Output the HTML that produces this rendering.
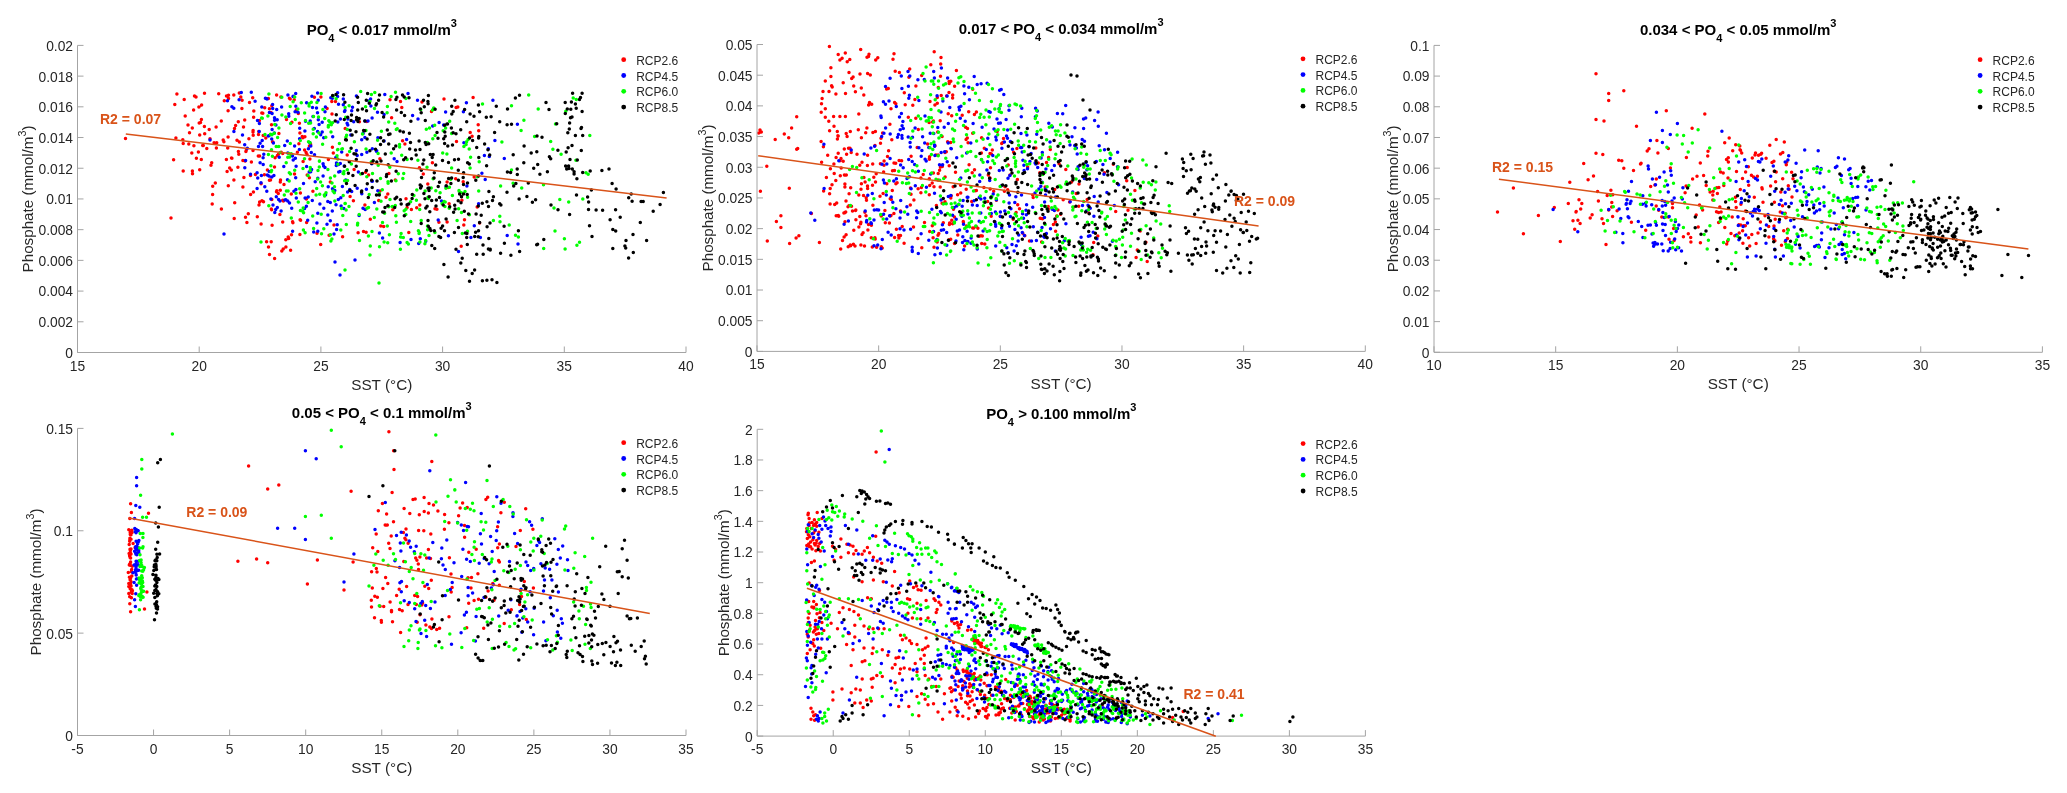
<!DOCTYPE html><html><head><meta charset="utf-8"><style>html,body{margin:0;padding:0;background:#fff;width:2067px;height:793px;overflow:hidden}svg{display:block;will-change:transform}text{font-family:"Liberation Sans",sans-serif}</style></head><body>
<svg width="2067" height="793" viewBox="0 0 2067 793">
<rect width="2067" height="793" fill="#fff"/>
<path d="M192.4 170.9h0M279.9 214.6h0M274.5 167.1h0M284.0 184.5h0M183.2 171.1h0M304.6 150.0h0M200.5 122.6h0M198.4 152.1h0M286.5 119.5h0M262.8 113.2h0M280.3 190.3h0M299.9 132.9h0M234.7 202.8h0M298.3 113.6h0M257.3 216.7h0M280.5 180.0h0M212.6 194.5h0M245.9 151.4h0M291.6 154.8h0M285.9 246.9h0M263.2 135.6h0M290.6 250.2h0M272.1 225.3h0M243.9 177.6h0M253.6 117.2h0M266.6 241.8h0M270.9 112.6h0M202.7 145.6h0M259.0 205.1h0M276.8 190.7h0M218.7 93.7h0M188.0 125.1h0M245.5 217.2h0M201.3 159.5h0M303.1 161.4h0M271.8 199.4h0M264.4 174.7h0M248.3 213.8h0M294.2 99.7h0M199.7 134.9h0M185.2 115.9h0M261.8 113.0h0M228.3 185.8h0M238.4 151.5h0M235.6 125.4h0M253.2 135.3h0M192.3 127.9h0M228.1 137.0h0M271.5 124.7h0M210.0 138.8h0M204.5 93.2h0M183.2 143.5h0M262.0 200.8h0M291.5 234.8h0M221.4 209.1h0M234.2 218.6h0M270.5 180.0h0M196.4 158.2h0M234.5 128.6h0M248.9 138.8h0M259.6 202.0h0M253.8 110.9h0M253.1 130.4h0M227.1 171.5h0M271.2 241.7h0M184.2 99.6h0M233.8 95.0h0M193.6 110.0h0M278.3 193.4h0M275.1 157.7h0M296.4 109.7h0M288.7 238.5h0M281.8 251.1h0M281.2 152.3h0M176.9 94.0h0M242.9 187.1h0M243.5 127.0h0M291.3 194.1h0M268.4 98.4h0M253.0 132.1h0M188.8 143.9h0M269.5 254.5h0M198.9 106.9h0M271.8 105.8h0M216.1 127.0h0M290.2 98.9h0M231.5 158.1h0M199.2 123.0h0M209.2 129.5h0M304.9 136.8h0M175.9 137.9h0M291.9 122.2h0M264.7 107.7h0M221.3 121.1h0M258.3 156.1h0M280.3 181.9h0M228.5 95.3h0M289.4 98.3h0M282.7 153.5h0M302.2 136.6h0M253.4 191.9h0M272.9 141.9h0M227.7 148.1h0M300.6 220.3h0M258.5 134.6h0M241.9 108.5h0M201.6 104.9h0M288.2 237.1h0M255.4 174.6h0M268.5 247.0h0M269.4 180.3h0M292.6 221.7h0M228.5 98.4h0M246.9 222.4h0M269.4 108.7h0M283.4 201.1h0M307.2 175.1h0M299.4 123.3h0M263.5 201.7h0M246.2 150.6h0M242.9 160.5h0M282.7 222.0h0M267.4 170.0h0M231.3 170.1h0M272.5 141.7h0M199.7 169.7h0M261.1 183.8h0M294.5 174.0h0M226.5 95.9h0M228.1 110.8h0M274.6 258.6h0M278.9 133.4h0M238.3 121.7h0M215.3 183.0h0M226.4 159.4h0M271.6 209.7h0M280.9 97.1h0M276.6 95.1h0M231.9 158.2h0M174.8 104.5h0M265.8 138.1h0M244.7 119.9h0M277.4 155.5h0M306.1 152.6h0M211.0 165.2h0M309.9 159.0h0M212.7 186.2h0M261.1 223.9h0M271.3 208.9h0M229.7 168.0h0M309.4 177.8h0M278.5 154.2h0M173.6 159.8h0M245.1 161.1h0M201.4 119.6h0M292.9 222.8h0M283.2 249.1h0M299.9 234.6h0M297.4 152.3h0M285.8 239.7h0M276.5 191.7h0M212.2 204.0h0M302.8 137.8h0M193.9 145.7h0M233.9 180.1h0M204.7 133.7h0M192.5 173.7h0M191.8 153.0h0M258.8 131.6h0M298.9 143.8h0M250.6 194.5h0M253.0 150.6h0M282.7 200.2h0M250.5 175.6h0M211.7 162.7h0M238.8 154.3h0M259.6 155.9h0M259.4 120.5h0M214.1 142.8h0M249.5 102.6h0M189.5 132.8h0M196.0 97.0h0M237.0 140.2h0M216.4 148.0h0M204.4 126.5h0M206.8 148.5h0M216.7 142.7h0M223.9 141.8h0M252.7 97.7h0M239.4 142.0h0M239.3 92.9h0M182.8 139.7h0M224.3 100.8h0M242.1 100.2h0M251.4 162.0h0M237.9 167.3h0M203.3 145.6h0M194.5 95.9h0M240.8 96.9h0M223.2 140.0h0M171.0 218.0h0M125.5 138.5h0M436.9 209.3h0M390.0 99.7h0M477.2 206.9h0M386.0 197.3h0M345.2 128.4h0M307.0 154.4h0M401.8 107.6h0M333.3 153.1h0M300.1 219.8h0M329.1 235.2h0M402.6 140.8h0M312.9 191.3h0M310.6 144.3h0M479.6 222.9h0M427.8 184.1h0M411.4 209.5h0M457.8 107.1h0M461.2 246.2h0M404.9 144.0h0M309.4 146.0h0M306.4 198.9h0M407.1 207.4h0M456.5 141.5h0M435.0 208.7h0M400.5 101.4h0M455.7 178.7h0M383.7 226.6h0M320.9 96.9h0M419.8 205.0h0M395.3 180.0h0M438.9 222.3h0M416.7 207.7h0M391.6 117.7h0M444.0 99.0h0M330.3 182.0h0M366.1 232.3h0M354.1 169.4h0M334.0 225.1h0M364.9 205.1h0M432.4 162.8h0M320.7 244.4h0M306.6 222.4h0M328.4 159.6h0M379.9 158.8h0M406.0 198.7h0M422.0 102.0h0M366.8 121.5h0M474.2 177.1h0M478.2 124.8h0M423.3 174.0h0M359.4 121.7h0M408.8 232.5h0M388.9 173.5h0M470.2 132.6h0M363.5 231.4h0M314.4 97.3h0M419.4 167.8h0M463.2 181.8h0M350.1 196.5h0M380.0 191.0h0M335.5 101.6h0M463.8 225.1h0M327.1 108.4h0M449.1 203.8h0M380.8 226.0h0M447.1 222.0h0M464.5 219.8h0M300.4 192.9h0M317.0 233.3h0M448.2 187.6h0M378.7 200.4h0M353.4 200.7h0M473.1 97.5h0M370.3 219.3h0M332.4 147.2h0M447.1 182.1h0M347.2 155.0h0M365.6 172.2h0M478.7 130.8h0M358.1 232.7h0M387.8 193.9h0M456.1 107.5h0M332.0 114.0h0M331.8 101.4h0M342.6 236.7h0M461.9 200.3h0M392.8 209.8h0M472.1 136.3h0M431.5 111.6h0M368.6 174.9h0" stroke="#ff0000" stroke-width="3.5" stroke-linecap="round" fill="none"/>
<path d="M322.2 122.3h0M288.8 116.3h0M281.1 210.9h0M262.2 140.4h0M318.3 119.7h0M361.7 139.7h0M271.7 138.9h0M295.4 158.2h0M287.8 153.1h0M255.1 101.2h0M359.1 215.5h0M340.3 163.6h0M309.2 171.9h0M305.1 198.0h0M327.8 201.6h0M304.6 208.5h0M327.8 215.0h0M345.0 110.5h0M293.9 191.2h0M335.8 157.4h0M316.9 222.9h0M259.2 131.4h0M272.1 113.4h0M317.8 178.3h0M261.8 107.0h0M317.5 112.7h0M245.6 160.5h0M350.8 134.9h0M267.0 99.1h0M306.6 102.7h0M371.9 181.3h0M334.8 190.5h0M311.3 152.5h0M343.3 104.8h0M267.3 175.0h0M296.1 166.2h0M312.5 107.6h0M251.3 92.2h0M328.2 186.8h0M275.7 209.4h0M340.4 118.9h0M295.7 177.8h0M347.9 119.0h0M332.7 136.7h0M263.1 157.8h0M347.1 123.2h0M345.7 179.9h0M260.1 162.8h0M372.4 181.2h0M317.8 213.3h0M298.0 112.2h0M310.2 121.1h0M272.6 104.4h0M306.4 206.3h0M336.0 204.7h0M261.0 182.7h0M366.4 189.3h0M284.9 199.9h0M361.7 154.4h0M260.1 143.2h0M337.8 121.9h0M231.9 106.7h0M349.7 189.6h0M266.8 191.3h0M257.1 188.4h0M295.9 189.5h0M287.9 95.0h0M272.1 129.4h0M344.5 111.4h0M276.3 196.8h0M311.9 96.3h0M269.0 135.7h0M325.0 167.6h0M295.7 93.5h0M293.2 160.0h0M247.3 148.3h0M244.7 144.7h0M317.8 231.3h0M272.7 108.6h0M287.7 200.9h0M264.8 186.7h0M344.2 166.0h0M268.9 175.9h0M340.0 171.6h0M356.4 96.0h0M370.6 98.9h0M275.9 125.1h0M257.7 177.9h0M318.2 100.2h0M305.5 121.2h0M271.8 177.0h0M374.4 202.6h0M269.4 112.4h0M338.5 164.5h0M274.8 212.5h0M273.0 204.9h0M343.8 208.6h0M263.2 164.4h0M363.1 133.6h0M239.1 99.7h0M323.1 163.7h0M336.6 229.6h0M314.5 154.8h0M361.8 193.7h0M233.9 131.5h0M319.1 124.4h0M284.7 145.5h0M314.3 128.4h0M304.9 131.1h0M315.2 181.8h0M338.3 199.5h0M338.5 104.3h0M299.4 149.5h0M347.8 124.9h0M274.3 133.1h0M279.2 157.3h0M294.6 145.9h0M330.3 202.5h0M332.3 211.0h0M313.7 232.0h0M299.6 138.8h0M332.3 98.2h0M365.2 209.5h0M278.6 199.4h0M341.7 152.1h0M283.8 166.5h0M303.5 183.6h0M313.0 116.5h0M334.0 233.9h0M347.6 192.1h0M330.3 220.8h0M273.4 143.0h0M277.2 119.8h0M317.6 92.9h0M320.7 134.7h0M288.7 113.7h0M353.7 121.8h0M308.2 197.0h0M311.6 169.6h0M343.3 99.0h0M274.5 117.8h0M257.1 172.8h0M338.7 171.9h0M341.1 205.9h0M233.8 108.3h0M259.4 123.4h0M242.5 134.9h0M292.5 156.1h0M250.5 174.2h0M322.2 132.1h0M377.8 190.7h0M371.8 163.8h0M342.4 186.5h0M364.9 137.6h0M263.8 154.2h0M265.4 98.3h0M310.7 171.7h0M336.3 165.5h0M364.9 121.1h0M323.7 137.8h0M368.8 100.9h0M317.6 131.5h0M372.1 118.0h0M337.6 92.7h0M262.6 146.4h0M323.8 208.3h0M295.1 111.7h0M276.7 109.6h0M357.2 155.4h0M296.3 198.1h0M323.6 165.9h0M287.5 179.7h0M268.2 136.1h0M293.0 96.6h0M351.7 110.7h0M312.3 200.5h0M333.8 191.2h0M325.0 111.7h0M306.6 166.5h0M292.6 231.3h0M307.7 220.3h0M363.0 208.3h0M280.0 200.9h0M241.3 92.5h0M332.5 188.7h0M325.4 107.0h0M327.0 224.2h0M358.4 172.0h0M295.8 106.3h0M289.5 203.1h0M258.5 146.6h0M277.3 207.5h0M273.9 175.6h0M285.8 199.7h0M370.9 106.1h0M257.5 120.4h0M269.2 171.5h0M244.8 167.7h0M270.9 199.0h0M281.6 106.9h0M299.7 128.2h0M319.9 204.1h0M337.6 96.5h0M287.3 140.9h0M357.2 188.2h0M261.4 175.6h0M351.7 191.6h0M323.1 175.9h0M356.4 150.4h0M293.2 96.2h0M352.5 107.3h0M368.0 121.1h0M309.6 142.5h0M336.5 163.0h0M325.6 194.8h0M227.5 100.8h0M316.5 108.0h0M291.7 208.2h0M310.8 146.1h0M337.2 224.7h0M366.9 152.3h0M340.8 197.8h0M274.5 120.3h0M330.8 97.7h0M308.4 148.8h0M443.6 125.0h0M394.2 158.8h0M480.4 237.5h0M376.4 151.2h0M485.2 179.5h0M504.3 158.6h0M470.9 237.5h0M445.6 112.0h0M377.5 112.2h0M458.5 251.5h0M397.0 161.6h0M377.9 137.8h0M408.0 93.5h0M474.3 225.8h0M418.7 243.5h0M507.2 235.4h0M463.9 142.8h0M488.3 148.8h0M518.0 244.0h0M411.0 239.4h0M384.1 141.0h0M425.7 241.2h0M478.6 203.7h0M481.9 173.3h0M412.6 115.6h0M484.4 155.5h0M432.7 126.1h0M517.4 124.2h0M372.3 148.7h0M406.6 139.6h0M379.4 233.1h0M438.2 220.0h0M466.4 102.8h0M494.9 140.6h0M489.3 156.4h0M417.5 100.2h0M384.1 114.4h0M448.4 235.7h0M382.6 237.9h0M420.3 238.7h0M418.0 118.9h0M400.1 242.5h0M492.9 100.3h0M441.5 201.1h0M446.1 186.8h0M463.4 111.7h0M384.8 94.6h0M376.7 150.8h0M439.1 122.4h0M466.9 185.9h0M224.0 234.0h0M335.0 262.0h0M340.0 275.0h0M355.0 260.0h0M210.0 140.0h0" stroke="#0000ff" stroke-width="3.5" stroke-linecap="round" fill="none"/>
<path d="M376.8 209.1h0M468.1 139.4h0M401.7 155.2h0M294.7 97.0h0M378.1 153.4h0M416.4 200.3h0M442.1 203.5h0M405.9 98.4h0M368.5 207.5h0M404.2 210.8h0M387.7 242.8h0M407.1 242.4h0M401.1 233.5h0M319.7 194.3h0M382.5 222.4h0M434.7 125.2h0M291.3 218.0h0M433.7 108.1h0M360.7 174.0h0M332.0 183.0h0M301.3 102.8h0M302.7 211.2h0M451.6 133.4h0M271.5 149.8h0M400.4 249.2h0M337.9 164.2h0M432.5 110.1h0M446.9 154.1h0M428.0 197.3h0M432.8 138.8h0M449.2 208.3h0M359.2 214.6h0M340.8 230.0h0M440.1 192.7h0M389.8 167.3h0M403.7 173.5h0M347.3 129.5h0M380.5 178.4h0M360.7 91.6h0M466.6 141.8h0M445.2 202.1h0M289.6 157.1h0M276.2 146.4h0M392.2 206.6h0M449.4 187.2h0M470.6 157.2h0M387.3 226.1h0M284.3 194.9h0M374.3 217.5h0M354.4 141.7h0M371.4 94.5h0M457.1 220.5h0M427.0 167.3h0M399.6 147.1h0M459.1 191.3h0M467.6 197.3h0M313.2 133.8h0M332.5 122.8h0M349.1 105.8h0M396.4 222.3h0M328.4 125.5h0M351.4 163.9h0M395.8 215.7h0M323.8 228.7h0M405.9 209.2h0M369.2 194.6h0M366.0 149.1h0M318.5 117.0h0M270.5 134.3h0M445.9 188.2h0M337.9 149.5h0M391.2 153.0h0M478.7 190.9h0M267.9 116.0h0M287.8 157.2h0M463.9 146.4h0M342.8 215.4h0M405.8 214.6h0M331.3 124.7h0M443.2 130.8h0M421.2 220.4h0M330.4 178.0h0M316.7 188.5h0M278.8 146.4h0M390.0 199.4h0M388.1 183.2h0M391.1 96.5h0M419.1 233.6h0M321.5 233.7h0M319.4 161.2h0M337.7 159.1h0M444.1 201.4h0M419.3 232.5h0M387.4 106.5h0M381.0 201.2h0M265.0 134.4h0M450.7 179.3h0M308.5 141.8h0M372.0 231.6h0M271.6 170.5h0M304.6 113.1h0M346.3 224.6h0M281.9 114.9h0M310.3 167.6h0M347.6 180.5h0M427.5 225.9h0M395.3 205.5h0M435.8 190.8h0M465.0 191.4h0M470.1 168.1h0M313.6 228.6h0M349.6 151.4h0M379.3 193.2h0M367.0 208.3h0M357.7 223.2h0M308.7 123.3h0M466.1 144.6h0M319.4 161.0h0M261.6 117.9h0M372.5 173.5h0M270.9 165.8h0M388.0 181.8h0M410.7 221.4h0M312.7 215.9h0M285.8 117.0h0M374.8 92.6h0M429.5 128.0h0M413.9 195.6h0M477.5 176.7h0M389.4 234.7h0M388.7 206.8h0M368.4 235.9h0M433.1 178.8h0M396.3 129.6h0M328.3 127.1h0M322.6 144.2h0M431.2 188.1h0M403.3 237.6h0M382.3 189.8h0M371.3 162.0h0M451.6 167.9h0M425.6 240.6h0M416.8 190.0h0M387.1 112.8h0M330.9 240.9h0M452.4 195.5h0M334.8 200.9h0M286.4 190.9h0M445.6 127.9h0M365.9 130.5h0M461.5 212.6h0M357.5 225.0h0M381.4 131.3h0M281.8 97.3h0M262.3 118.2h0M334.5 186.7h0M268.9 93.9h0M428.3 198.6h0M343.8 173.7h0M449.7 121.2h0M429.0 235.4h0M271.9 134.7h0M331.9 239.0h0M374.5 108.6h0M435.1 135.4h0M359.5 240.5h0M467.5 231.3h0M268.4 154.5h0M461.3 192.8h0M366.8 176.7h0M379.5 246.8h0M384.1 242.0h0M424.9 243.7h0M378.2 165.3h0M388.7 121.9h0M365.6 106.8h0M442.7 153.1h0M362.5 133.9h0M434.9 232.6h0M469.4 214.8h0M303.4 230.0h0M322.9 109.5h0M309.1 103.8h0M324.7 118.5h0M319.3 166.9h0M309.1 105.9h0M425.1 190.9h0M305.1 232.8h0M459.0 190.6h0M395.5 92.3h0M313.5 116.5h0M417.9 160.3h0M400.6 237.0h0M349.0 206.6h0M458.6 208.8h0M426.3 129.2h0M310.2 170.6h0M427.4 142.5h0M427.6 229.8h0M462.3 233.4h0M384.6 213.2h0M394.8 123.3h0M469.2 148.9h0M419.7 209.4h0M310.6 123.1h0M343.1 173.4h0M407.1 159.6h0M408.4 243.9h0M402.8 178.6h0M330.4 234.7h0M420.8 109.6h0M444.9 206.5h0M418.4 230.7h0M377.6 140.3h0M305.5 120.5h0M326.0 192.8h0M342.4 148.7h0M399.5 144.6h0M337.0 155.7h0M343.9 171.6h0M479.2 161.8h0M396.0 180.8h0M369.9 101.5h0M397.2 128.7h0M328.8 120.8h0M398.3 173.7h0M419.9 242.0h0M410.6 201.7h0M370.3 246.1h0M339.4 143.4h0M576.9 245.3h0M518.4 237.1h0M552.9 149.3h0M543.7 248.5h0M511.5 170.0h0M555.0 231.1h0M521.7 187.9h0M568.7 202.0h0M575.9 160.3h0M501.9 141.9h0M500.6 186.0h0M482.5 103.9h0M509.2 225.0h0M561.1 154.2h0M588.2 174.3h0M534.6 136.4h0M521.1 130.6h0M565.8 111.3h0M550.7 141.4h0M528.7 95.1h0M576.3 99.4h0M538.2 109.1h0M582.8 199.0h0M523.9 120.2h0M543.5 184.7h0M586.0 172.7h0M554.0 208.0h0M499.8 216.3h0M559.8 199.5h0M515.5 235.2h0M493.4 220.5h0M589.8 135.4h0M573.2 97.9h0M579.5 242.2h0M511.5 105.8h0M564.4 238.8h0M555.5 124.1h0M565.1 249.1h0M500.0 221.7h0M513.1 183.2h0M379.0 283.0h0M345.0 270.0h0M370.0 255.0h0M261.0 242.0h0M290.3 143.5h0M298.3 202.1h0M318.0 170.5h0M288.8 153.5h0M299.7 188.7h0M325.8 137.3h0M272.4 156.2h0M336.1 98.8h0M310.1 142.7h0M317.5 179.0h0M289.3 172.7h0M290.5 173.9h0M345.9 137.3h0M274.3 133.3h0M329.8 121.9h0M300.4 210.6h0M331.0 132.0h0M316.1 195.0h0M337.5 149.8h0M341.8 149.0h0M343.2 195.6h0M344.6 180.7h0M313.2 129.2h0M274.8 124.6h0M327.9 169.6h0M277.6 137.6h0M341.6 208.5h0M303.0 168.6h0M333.1 96.2h0M311.3 102.2h0M320.6 182.0h0M308.1 175.5h0M268.8 205.7h0M294.7 170.3h0M297.9 109.0h0M346.1 209.9h0M318.9 133.0h0M286.2 162.7h0M308.1 202.5h0M345.0 203.5h0M334.7 175.9h0M333.0 191.1h0M316.9 102.6h0M288.1 191.1h0M346.6 135.2h0M316.4 137.1h0M291.2 153.8h0M321.1 93.4h0M324.3 194.9h0M290.2 106.4h0M322.4 185.7h0M271.1 171.8h0M280.1 152.4h0M304.5 158.8h0M345.1 107.4h0M278.9 127.9h0M303.2 208.0h0M345.7 117.3h0M293.1 101.8h0M289.2 181.0h0M290.6 123.5h0M324.6 196.0h0M345.3 203.4h0M296.0 193.3h0M300.3 140.4h0M295.3 119.4h0M334.3 192.7h0M321.2 214.3h0M303.6 212.8h0M347.3 169.7h0" stroke="#00ff00" stroke-width="3.5" stroke-linecap="round" fill="none"/>
<path d="M366.4 170.6h0M429.1 188.1h0M420.0 149.6h0M429.2 196.7h0M376.8 162.1h0M435.1 109.2h0M425.3 120.4h0M373.2 160.8h0M464.6 109.6h0M450.9 183.6h0M364.9 121.1h0M362.4 109.0h0M378.6 100.3h0M344.9 102.2h0M428.7 143.8h0M467.2 194.4h0M409.4 133.3h0M351.5 115.1h0M400.4 199.7h0M469.6 138.0h0M356.2 166.3h0M386.7 174.6h0M420.3 109.0h0M357.6 97.2h0M348.4 173.2h0M436.4 200.0h0M336.3 114.7h0M396.7 197.3h0M401.2 204.0h0M400.0 131.1h0M453.2 111.6h0M465.4 233.0h0M332.6 95.4h0M463.6 172.8h0M369.9 150.7h0M396.9 97.3h0M463.2 177.4h0M478.4 105.1h0M346.4 140.1h0M376.5 103.7h0M444.8 132.1h0M404.3 215.8h0M379.3 195.0h0M412.1 198.6h0M367.6 93.6h0M463.5 184.5h0M443.7 138.7h0M349.9 190.5h0M429.9 228.6h0M366.5 110.7h0M343.6 94.8h0M351.1 148.3h0M458.2 200.7h0M388.2 164.8h0M470.1 113.9h0M421.5 177.6h0M396.1 171.2h0M461.5 196.8h0M382.7 212.0h0M367.1 138.9h0M478.3 206.0h0M441.1 228.2h0M385.0 207.6h0M401.3 112.6h0M395.9 99.5h0M344.3 119.6h0M388.7 144.0h0M452.5 145.1h0M478.6 138.1h0M426.1 144.5h0M412.3 194.5h0M409.0 97.8h0M352.9 175.4h0M380.5 144.4h0M363.6 130.5h0M463.5 194.0h0M468.5 214.1h0M403.7 159.7h0M410.5 142.5h0M355.8 153.9h0M368.3 197.4h0M442.5 160.6h0M404.2 97.0h0M410.9 121.3h0M356.6 117.5h0M420.2 185.1h0M479.6 111.8h0M476.1 214.0h0M383.5 141.0h0M430.3 154.4h0M395.1 198.8h0M377.0 180.9h0M430.8 230.6h0M376.0 104.9h0M361.5 191.9h0M431.7 200.5h0M478.8 136.4h0M458.3 170.3h0M458.5 159.3h0M453.1 132.7h0M475.8 180.2h0M356.3 159.6h0M395.8 146.1h0M447.5 124.0h0M466.7 121.8h0M355.1 185.5h0M451.6 177.9h0M352.1 134.9h0M403.4 132.0h0M354.0 153.8h0M379.5 95.1h0M428.4 95.4h0M356.0 131.8h0M415.5 150.1h0M425.3 142.6h0M369.9 134.3h0M387.3 130.1h0M351.1 120.4h0M409.7 149.0h0M448.5 162.5h0M460.7 129.7h0M451.4 128.1h0M478.3 236.7h0M387.9 205.7h0M408.7 204.1h0M435.7 165.1h0M358.3 102.5h0M448.6 178.4h0M427.9 101.6h0M444.6 143.4h0M437.0 132.4h0M428.3 226.3h0M458.4 180.3h0M405.6 157.8h0M421.4 186.2h0M359.2 118.6h0M433.1 154.6h0M335.2 120.9h0M423.9 193.6h0M384.0 211.9h0M344.6 166.2h0M434.3 172.7h0M478.8 157.5h0M393.6 148.7h0M425.0 198.8h0M375.5 149.3h0M386.4 176.4h0M346.5 183.4h0M451.7 106.2h0M347.7 117.2h0M402.5 95.1h0M383.6 117.1h0M385.3 153.9h0M366.3 100.3h0M364.6 130.8h0M371.5 163.2h0M391.4 181.0h0M421.3 170.3h0M388.6 134.5h0M434.3 230.8h0M434.0 177.9h0M349.3 161.8h0M458.5 227.6h0M467.5 182.9h0M475.6 232.2h0M356.6 119.8h0M456.0 133.8h0M376.5 195.1h0M428.0 220.4h0M422.9 164.0h0M367.3 183.7h0M423.8 160.0h0M336.0 94.5h0M381.0 161.0h0M459.6 194.0h0M439.5 197.4h0M428.1 103.7h0M447.0 123.9h0M407.1 204.7h0M420.6 188.1h0M421.2 112.7h0M478.5 230.8h0M478.5 176.1h0M390.0 133.9h0M404.6 115.5h0M371.7 180.2h0M350.2 130.2h0M476.7 147.4h0M454.5 159.8h0M421.2 223.4h0M445.2 136.3h0M345.6 139.8h0M444.6 125.3h0M372.2 187.6h0M382.1 112.4h0M467.6 162.7h0M446.2 185.8h0M424.3 106.8h0M361.7 190.9h0M362.4 173.5h0M423.5 100.3h0M427.1 206.3h0M474.0 116.3h0M451.8 113.9h0M439.5 182.2h0M464.3 211.2h0M479.6 222.4h0M438.0 138.3h0M436.0 205.9h0M443.2 205.1h0M453.6 212.2h0M438.2 186.5h0M380.6 137.7h0M411.5 158.8h0M396.6 110.1h0M432.2 157.4h0M416.2 155.0h0M469.3 163.9h0M449.7 206.8h0M472.6 140.4h0M419.1 141.0h0M357.7 110.1h0M358.0 121.5h0M394.7 207.4h0M447.8 145.9h0M372.1 163.1h0M369.3 103.2h0M428.0 188.3h0M429.0 190.4h0M454.9 100.3h0M440.6 237.4h0M474.7 236.6h0M490.0 223.1h0M469.5 281.3h0M467.3 244.4h0M472.2 273.4h0M448.1 277.0h0M443.9 264.6h0M429.8 211.8h0M456.0 249.2h0M431.8 245.5h0M444.5 230.7h0M460.8 263.0h0M486.9 201.8h0M434.7 248.6h0M442.6 226.1h0M454.4 232.5h0M482.3 203.3h0M425.8 208.1h0M476.7 254.3h0M487.1 226.8h0M465.8 270.6h0M492.0 279.8h0M455.1 209.1h0M486.9 280.2h0M466.7 237.4h0M454.7 205.2h0M462.2 258.2h0M438.9 236.4h0M482.4 280.7h0M461.0 202.8h0M474.6 270.1h0M446.1 219.1h0M496.9 282.4h0M466.9 233.6h0M567.8 132.8h0M490.2 249.3h0M483.2 254.3h0M569.6 123.1h0M486.6 165.7h0M533.7 168.3h0M507.5 109.0h0M549.4 156.8h0M531.2 153.1h0M510.6 172.5h0M483.0 245.0h0M488.5 206.5h0M575.4 104.0h0M510.9 255.3h0M523.8 162.7h0M546.0 102.6h0M579.5 99.6h0M504.4 243.2h0M490.2 250.0h0M519.1 199.1h0M486.3 117.3h0M513.2 154.7h0M507.1 124.8h0M550.7 158.7h0M535.6 199.7h0M547.4 171.8h0M526.9 196.6h0M488.8 238.5h0M488.4 249.1h0M500.6 253.2h0M499.7 203.7h0M537.7 164.4h0M493.4 196.8h0M500.9 204.9h0M537.0 136.1h0M543.8 239.6h0M492.5 200.4h0M556.7 123.7h0M507.4 172.1h0M528.3 182.9h0M481.2 215.2h0M511.5 124.2h0M571.4 102.0h0M515.4 98.1h0M496.3 106.3h0M519.5 95.2h0M484.6 144.0h0M537.6 244.3h0M488.9 191.4h0M536.8 151.8h0M539.9 174.3h0M515.9 183.5h0M532.4 202.3h0M542.0 137.3h0M576.5 194.9h0M569.6 214.4h0M557.9 150.3h0M549.0 109.6h0M572.6 93.2h0M517.2 169.1h0M582.7 135.4h0M517.3 174.6h0M489.7 155.1h0M513.7 186.1h0M519.6 251.4h0M491.1 116.8h0M569.3 128.9h0M558.0 209.7h0M581.3 150.6h0M504.1 226.2h0M565.2 102.5h0M494.6 132.4h0M570.5 117.8h0M551.0 205.0h0M499.7 121.7h0M536.7 244.8h0M524.1 146.1h0M507.0 192.3h0M518.4 230.8h0M488.0 149.7h0M566.7 169.1h0M567.3 108.9h0M574.1 171.8h0M580.5 97.6h0M575.4 135.6h0M576.9 178.7h0M566.2 152.0h0M568.9 168.4h0M568.1 147.8h0M565.6 166.0h0M572.0 117.1h0M570.0 159.4h0M582.1 111.6h0M581.5 127.4h0M577.3 160.1h0M572.0 145.6h0M572.3 169.1h0M582.7 172.4h0M570.8 109.2h0M565.3 113.4h0M574.1 173.9h0M582.1 93.2h0M581.0 128.6h0M568.6 166.0h0M576.2 108.3h0M640.3 222.4h0M632.1 201.2h0M602.6 210.2h0M589.5 225.7h0M615.6 209.8h0M592.0 236.4h0M641.1 201.4h0M625.7 248.1h0M588.5 209.6h0M601.9 170.6h0M596.1 210.1h0M616.1 189.1h0M626.0 240.5h0M591.4 190.1h0M653.2 211.3h0M612.1 183.5h0M643.2 201.5h0M646.6 240.4h0M620.2 217.3h0M663.4 192.5h0M587.6 197.0h0M633.3 252.6h0M631.2 194.1h0M660.1 204.4h0M588.6 202.0h0M628.6 258.0h0M612.8 229.6h0M609.0 169.1h0M590.2 170.9h0M624.9 246.1h0M628.7 197.8h0M610.1 219.7h0M612.8 248.6h0M633.0 234.4h0M615.7 230.9h0" stroke="#000000" stroke-width="3.5" stroke-linecap="round" fill="none"/>
<path d="M77.50 45.40V352.50H686.00M77.50 352.50H83.50M77.50 321.79H83.50M77.50 291.08H83.50M77.50 260.37H83.50M77.50 229.66H83.50M77.50 198.95H83.50M77.50 168.24H83.50M77.50 137.53H83.50M77.50 106.82H83.50M77.50 76.11H83.50M77.50 45.40H83.50M77.50 352.50V346.50M199.20 352.50V346.50M320.90 352.50V346.50M442.60 352.50V346.50M564.30 352.50V346.50M686.00 352.50V346.50" stroke="#a4a4a4" stroke-width="1" fill="none"/>
<text x="73.00" y="357.90" font-size="13.8" fill="#262626" text-anchor="end">0</text>
<text x="73.00" y="327.19" font-size="13.8" fill="#262626" text-anchor="end">0.002</text>
<text x="73.00" y="296.48" font-size="13.8" fill="#262626" text-anchor="end">0.004</text>
<text x="73.00" y="265.77" font-size="13.8" fill="#262626" text-anchor="end">0.006</text>
<text x="73.00" y="235.06" font-size="13.8" fill="#262626" text-anchor="end">0.008</text>
<text x="73.00" y="204.35" font-size="13.8" fill="#262626" text-anchor="end">0.01</text>
<text x="73.00" y="173.64" font-size="13.8" fill="#262626" text-anchor="end">0.012</text>
<text x="73.00" y="142.93" font-size="13.8" fill="#262626" text-anchor="end">0.014</text>
<text x="73.00" y="112.22" font-size="13.8" fill="#262626" text-anchor="end">0.016</text>
<text x="73.00" y="81.51" font-size="13.8" fill="#262626" text-anchor="end">0.018</text>
<text x="73.00" y="50.80" font-size="13.8" fill="#262626" text-anchor="end">0.02</text>
<text x="77.50" y="370.50" font-size="13.8" fill="#262626" text-anchor="middle">15</text>
<text x="199.20" y="370.50" font-size="13.8" fill="#262626" text-anchor="middle">20</text>
<text x="320.90" y="370.50" font-size="13.8" fill="#262626" text-anchor="middle">25</text>
<text x="442.60" y="370.50" font-size="13.8" fill="#262626" text-anchor="middle">30</text>
<text x="564.30" y="370.50" font-size="13.8" fill="#262626" text-anchor="middle">35</text>
<text x="686.00" y="370.50" font-size="13.8" fill="#262626" text-anchor="middle">40</text>
<text x="381.75" y="389.60" font-size="15.3" fill="#262626" text-anchor="middle">SST (°C)</text>
<text transform="translate(33.20 198.95) rotate(-90)" font-size="15.2" fill="#262626" text-anchor="middle">Phosphate (mmol/m<tspan font-size="10.8" dy="-7">3</tspan><tspan dy="7">)</tspan></text>
<text x="381.75" y="34.60" font-weight="bold" fill="#000" text-anchor="middle"><tspan font-size="15" dy="0.00">PO</tspan><tspan font-size="11" dy="7.00">4</tspan><tspan font-size="15" dy="-7.00"> &lt; 0.017 mmol/m</tspan><tspan font-size="11" dy="-7.80">3</tspan></text>
<circle cx="623.70" cy="59.70" r="2.4" fill="#ff0000"/>
<text x="636.20" y="64.70" font-size="12" fill="#262626">RCP2.6</text>
<circle cx="623.70" cy="75.50" r="2.4" fill="#0000ff"/>
<text x="636.20" y="80.50" font-size="12" fill="#262626">RCP4.5</text>
<circle cx="623.70" cy="91.30" r="2.4" fill="#00ff00"/>
<text x="636.20" y="96.30" font-size="12" fill="#262626">RCP6.0</text>
<circle cx="623.70" cy="107.10" r="2.4" fill="#000000"/>
<text x="636.20" y="112.10" font-size="12" fill="#262626">RCP8.5</text>
<path d="M125.80 134.00L666.60 198.00" stroke="#d95319" stroke-width="1.5" fill="none"/>
<text x="100.00" y="123.70" font-size="14" font-weight="bold" fill="#d95319">R2 = 0.07</text>
<path d="M915.9 86.1h0M979.3 236.3h0M897.1 182.7h0M855.4 91.7h0M867.6 188.6h0M855.0 246.0h0M831.6 85.8h0M834.7 204.6h0M880.5 143.2h0M873.8 177.3h0M886.6 88.9h0M891.0 108.7h0M838.3 215.6h0M932.2 182.9h0M965.6 127.3h0M882.6 133.1h0M886.8 183.8h0M821.1 141.6h0M908.3 117.2h0M823.6 191.1h0M821.6 162.3h0M845.3 53.1h0M849.8 59.5h0M844.9 187.1h0M940.2 120.7h0M927.6 143.9h0M902.2 226.4h0M871.4 225.2h0M934.0 186.8h0M825.3 117.2h0M976.1 226.4h0M936.4 205.5h0M953.5 209.2h0M843.2 82.8h0M950.8 198.1h0M967.3 138.0h0M977.9 228.2h0M875.7 59.9h0M910.5 188.0h0M877.8 57.8h0M866.0 215.8h0M861.3 88.1h0M968.7 111.7h0M835.8 180.6h0M924.5 222.5h0M895.7 163.3h0M952.7 95.1h0M865.1 182.0h0M911.1 156.3h0M875.2 239.0h0M867.5 185.9h0M967.5 128.6h0M829.0 91.4h0M830.9 76.5h0M839.9 116.6h0M881.0 138.2h0M929.7 185.4h0M933.4 121.1h0M929.4 159.3h0M841.0 158.4h0M872.5 185.2h0M941.2 95.6h0M891.8 139.7h0M869.0 54.3h0M942.1 136.4h0M930.0 101.4h0M937.2 241.9h0M947.6 141.8h0M982.3 236.0h0M829.6 130.8h0M894.6 102.5h0M921.7 75.6h0M943.3 222.7h0M830.2 188.6h0M863.9 177.5h0M934.0 247.2h0M951.7 115.8h0M940.5 76.2h0M937.7 131.9h0M863.8 95.1h0M855.8 210.1h0M835.9 93.9h0M851.7 78.6h0M940.4 167.0h0M929.7 231.5h0M894.0 53.8h0M851.2 152.4h0M938.0 235.2h0M904.3 92.7h0M917.8 238.6h0M874.9 237.8h0M969.1 164.8h0M899.4 72.6h0M838.2 54.4h0M920.9 192.8h0M842.1 58.3h0M867.6 155.3h0M858.8 195.0h0M884.1 161.0h0M845.0 221.8h0M971.7 201.6h0M974.4 114.5h0M825.3 108.8h0M968.1 142.7h0M853.1 77.1h0M847.1 136.4h0M972.7 228.1h0M945.0 201.8h0M851.5 206.2h0M857.0 154.3h0M841.2 168.1h0M929.3 178.7h0M932.6 122.1h0M950.7 239.3h0M921.8 247.8h0M930.8 64.8h0M929.1 122.5h0M829.4 46.5h0M840.7 249.1h0M957.8 234.9h0M850.7 187.7h0M951.2 195.7h0M864.5 246.0h0M940.2 187.0h0M866.9 127.9h0M945.0 152.4h0M900.5 235.5h0M889.4 222.9h0M827.7 155.3h0M934.9 104.9h0M923.2 174.4h0M842.5 240.4h0M860.0 74.1h0M893.0 59.2h0M836.7 202.9h0M836.1 157.5h0M966.1 139.5h0M954.4 217.0h0M847.2 61.8h0M949.4 224.5h0M960.7 193.1h0M904.1 243.3h0M942.1 203.2h0M942.3 166.4h0M822.1 98.6h0M938.1 155.0h0M912.8 105.2h0M913.5 227.0h0M940.7 64.0h0M843.2 161.2h0M956.4 70.6h0M844.3 149.0h0M870.3 74.9h0M846.2 133.5h0M950.8 81.3h0M861.4 183.7h0M821.2 112.3h0M845.5 93.5h0M938.8 233.5h0M860.6 223.7h0M872.9 205.2h0M915.8 118.2h0M966.2 189.3h0M872.7 164.1h0M868.6 104.9h0M846.1 234.8h0M837.9 135.8h0M966.4 226.0h0M861.4 137.8h0M972.7 89.2h0M837.3 131.5h0M932.3 225.8h0M849.0 72.5h0M918.3 129.6h0M972.2 172.8h0M921.4 187.5h0M853.8 230.3h0M962.1 215.4h0M949.1 81.5h0M828.8 121.2h0M938.3 87.4h0M963.4 222.6h0M935.0 145.7h0M844.8 212.7h0M848.5 148.2h0M945.1 176.9h0M858.9 227.1h0M872.9 132.6h0M892.3 190.5h0M826.4 177.5h0M900.5 211.0h0M880.4 163.7h0M950.7 142.5h0M869.5 102.6h0M855.9 219.7h0M853.4 244.2h0M905.2 104.7h0M949.2 165.7h0M934.2 51.7h0M850.3 131.4h0M871.7 104.2h0M913.9 199.9h0M888.6 150.8h0M949.0 92.6h0M881.2 216.0h0M858.8 114.1h0M848.2 246.7h0M908.9 77.3h0M823.0 91.5h0M935.9 154.9h0M867.4 165.5h0M833.6 116.5h0M836.2 215.8h0M883.1 193.4h0M875.4 131.6h0M914.9 99.4h0M910.3 205.1h0M832.2 86.9h0M823.4 146.7h0M838.2 153.3h0M846.6 154.3h0M866.5 200.3h0M954.5 243.6h0M896.4 229.2h0M962.2 115.2h0M981.7 243.4h0M846.0 200.9h0M933.4 173.0h0M937.3 103.3h0M957.6 194.7h0M850.3 245.0h0M941.0 57.5h0M825.3 80.9h0M929.3 194.8h0M973.7 228.0h0M853.7 86.0h0M834.0 126.3h0M889.9 124.3h0M955.5 172.3h0M952.6 223.7h0M946.3 151.8h0M887.5 156.4h0M895.9 183.8h0M960.6 185.3h0M862.0 162.3h0M895.2 71.3h0M837.4 138.9h0M975.2 190.8h0M939.6 170.3h0M875.0 145.4h0M840.3 175.7h0M920.9 178.0h0M901.6 160.8h0M838.7 216.3h0M963.3 221.4h0M946.6 95.9h0M868.5 56.5h0M949.6 223.1h0M974.5 169.7h0M951.8 220.2h0M839.9 60.1h0M964.6 245.9h0M938.2 173.6h0M885.3 222.8h0M867.0 57.2h0M938.1 179.9h0M838.2 136.0h0M864.9 212.3h0M948.2 113.8h0M845.4 116.6h0M892.5 170.8h0M976.4 112.1h0M844.4 175.0h0M890.2 198.7h0M929.3 158.7h0M954.6 86.3h0M949.2 83.6h0M899.1 160.5h0M909.7 69.1h0M895.8 103.8h0M865.7 132.8h0M888.3 88.5h0M933.1 237.8h0M858.3 129.8h0M918.1 188.7h0M917.2 147.6h0M984.8 244.0h0M952.6 97.9h0M976.4 190.5h0M972.7 133.3h0M937.3 97.6h0M821.5 103.7h0M929.6 156.7h0M953.2 186.8h0M948.8 240.1h0M830.9 67.8h0M867.6 73.5h0M911.0 194.3h0M850.0 148.2h0M860.7 49.5h0M844.9 183.9h0M876.6 247.2h0M830.1 204.1h0M859.8 216.5h0M845.7 212.1h0M855.6 210.6h0M891.0 215.6h0M850.6 245.7h0M875.5 182.0h0M898.9 237.9h0M863.1 232.8h0M832.0 184.8h0M860.9 245.0h0M868.5 224.6h0M883.6 171.9h0M893.9 213.4h0M834.2 173.6h0M884.9 210.5h0M894.6 237.4h0M866.2 197.7h0M882.2 248.0h0M848.0 206.7h0M833.9 164.0h0M829.6 193.7h0M871.3 237.7h0M881.3 246.7h0M844.1 236.9h0M849.1 193.7h0M859.8 165.3h0M852.5 211.1h0M876.2 173.8h0M846.3 175.0h0M863.5 195.4h0M848.9 205.8h0M881.5 215.4h0M880.0 196.3h0M894.5 170.5h0M830.4 168.7h0M861.0 189.2h0M839.9 160.7h0M884.0 165.2h0M872.3 246.9h0M843.9 213.0h0M891.3 199.5h0M894.0 163.1h0M867.9 230.0h0M862.0 234.6h0M898.6 235.4h0M860.9 222.2h0M890.3 216.1h0M760.0 129.9h0M796.7 116.7h0M767.3 240.9h0M789.6 243.4h0M811.4 213.5h0M784.3 133.9h0M761.3 132.1h0M789.3 188.3h0M766.8 166.2h0M780.9 227.4h0M776.4 221.5h0M798.9 235.7h0M775.2 139.4h0M788.7 137.8h0M796.1 238.1h0M791.6 128.0h0M760.4 191.3h0M780.9 215.7h0M797.7 148.6h0M819.4 242.4h0M758.7 133.0h0M796.7 149.3h0M1000.2 216.3h0M1065.8 169.4h0M1071.6 181.9h0M1039.8 172.7h0M1055.6 231.2h0M1027.6 167.1h0M1055.4 222.1h0M992.3 150.0h0M984.3 148.3h0M993.7 191.3h0M1048.6 157.4h0M981.0 235.8h0M990.5 167.7h0M981.6 137.8h0M1013.6 152.3h0M1029.5 241.1h0M1038.2 163.1h0M1059.1 163.7h0M1046.5 162.4h0M996.4 200.3h0M1050.3 149.5h0M983.9 187.5h0M990.0 153.4h0M1056.7 215.9h0M1073.4 207.2h0M1053.4 224.6h0M1057.9 210.0h0M987.6 201.5h0M991.2 216.2h0M1019.5 208.8h0M990.0 178.1h0M1048.2 206.5h0M997.2 131.4h0M1060.6 214.2h0M1048.3 209.0h0M1041.6 241.9h0M1040.2 218.2h0M1003.5 138.5h0M990.2 189.1h0M1045.2 187.1h0M1016.9 148.4h0M988.5 207.9h0M981.4 153.1h0M1033.2 197.4h0M1004.4 191.2h0M1042.4 218.8h0M1024.8 235.7h0M1022.8 233.3h0M1017.7 204.8h0M1007.7 189.8h0M1002.8 142.6h0M1005.0 186.8h0M1013.2 219.2h0M1016.1 212.5h0M1010.0 175.1h0M1035.8 148.0h0M1054.7 189.6h0M1032.7 195.0h0M1001.7 143.5h0M1063.2 199.7h0M1069.6 202.1h0M991.4 154.0h0M1017.4 179.4h0M1008.2 165.1h0M988.3 175.1h0M1076.2 193.6h0M1093.7 242.5h0M1088.8 213.0h0M1140.2 231.0h0M1104.4 172.7h0M1145.9 242.2h0M1126.7 180.7h0M1093.0 254.7h0M1137.3 249.9h0M1097.8 235.9h0M1136.1 257.5h0M1079.0 183.9h0M1134.9 190.4h0M1078.7 206.2h0M1087.2 199.6h0M1128.0 210.3h0M1115.7 211.5h0M1147.2 261.4h0M1113.3 164.2h0M1127.2 167.4h0" stroke="#ff0000" stroke-width="3.5" stroke-linecap="round" fill="none"/>
<path d="M941.3 230.2h0M952.6 215.3h0M958.9 204.3h0M956.7 205.9h0M925.0 116.1h0M1010.4 216.5h0M1009.5 195.0h0M1009.9 175.5h0M984.7 198.3h0M933.7 71.4h0M1024.4 235.5h0M918.9 147.7h0M877.7 245.1h0M870.9 147.9h0M991.3 213.5h0M967.9 197.3h0M908.4 86.2h0M947.6 78.1h0M979.7 181.5h0M995.6 224.6h0M942.3 164.9h0M994.0 129.1h0M1037.7 167.5h0M950.8 195.4h0M1032.7 207.3h0M972.4 205.0h0M893.8 181.0h0M896.4 178.8h0M1046.4 233.5h0M909.8 75.9h0M903.2 167.8h0M921.9 150.6h0M956.0 240.9h0M924.7 143.0h0M918.4 171.3h0M886.8 164.0h0M956.2 219.3h0M962.5 242.6h0M921.2 156.3h0M996.4 199.7h0M1022.6 213.7h0M906.9 206.7h0M987.1 83.3h0M995.8 136.9h0M947.1 96.1h0M912.2 250.4h0M874.0 245.8h0M1006.5 135.9h0M1003.2 170.1h0M979.8 174.9h0M937.4 247.9h0M1004.4 142.1h0M960.3 118.2h0M881.2 117.6h0M1021.8 108.3h0M908.0 71.4h0M892.8 202.3h0M874.0 219.9h0M1009.0 105.8h0M874.3 209.9h0M1036.7 134.2h0M912.2 161.4h0M1008.2 252.7h0M987.8 138.3h0M946.7 232.4h0M908.2 137.0h0M1009.0 110.3h0M1006.8 247.7h0M915.1 128.1h0M910.6 229.2h0M943.6 229.7h0M931.9 209.3h0M1041.1 158.1h0M891.2 235.0h0M1043.7 236.6h0M944.2 127.2h0M901.4 113.5h0M909.4 95.2h0M878.6 210.1h0M934.9 254.7h0M988.8 111.5h0M989.7 180.4h0M1044.6 202.0h0M908.8 98.2h0M937.8 127.4h0M900.0 218.1h0M914.6 164.5h0M926.4 187.3h0M890.2 134.0h0M909.4 176.7h0M967.1 231.3h0M1001.6 228.0h0M1035.6 108.3h0M969.4 99.8h0M977.2 205.4h0M1023.9 165.3h0M965.2 121.3h0M874.6 146.2h0M891.2 197.1h0M902.1 138.2h0M954.1 207.6h0M1038.9 189.0h0M865.2 210.9h0M1021.1 227.7h0M1009.1 203.1h0M1001.9 148.2h0M947.2 161.8h0M940.4 211.4h0M912.5 137.3h0M890.1 158.6h0M884.4 183.0h0M942.9 101.1h0M907.0 178.4h0M918.3 253.4h0M990.2 112.3h0M889.6 215.8h0M1037.3 111.1h0M915.3 185.8h0M885.5 104.2h0M951.3 148.8h0M908.7 159.5h0M910.1 142.6h0M1008.0 178.2h0M941.2 152.6h0M1026.0 210.3h0M939.5 164.8h0M881.0 248.7h0M890.1 78.2h0M977.2 84.6h0M1000.4 123.1h0M999.3 170.5h0M882.0 164.2h0M881.7 136.4h0M970.8 143.0h0M934.5 193.3h0M902.9 121.6h0M946.8 245.3h0M934.4 78.1h0M900.6 165.1h0M1045.3 189.0h0M959.4 109.9h0M921.1 233.8h0M980.9 199.1h0M997.0 119.1h0M901.9 135.5h0M949.8 107.6h0M925.1 159.3h0M912.2 247.3h0M983.1 230.9h0M900.8 212.0h0M941.0 112.0h0M981.1 83.8h0M1012.5 149.3h0M883.6 214.2h0M871.4 223.4h0M899.5 117.0h0M1023.5 218.2h0M942.4 224.7h0M910.3 146.9h0M933.8 133.6h0M956.7 157.7h0M995.4 212.1h0M928.8 147.5h0M964.6 93.8h0M1003.8 94.6h0M876.9 209.7h0M986.3 149.6h0M882.3 239.4h0M901.9 88.4h0M999.1 108.7h0M1044.4 237.3h0M941.3 212.8h0M886.3 195.0h0M918.9 100.5h0M995.7 245.9h0M961.8 216.3h0M930.2 133.2h0M993.2 193.9h0M987.6 161.8h0M883.9 133.2h0M963.8 249.8h0M1042.7 173.2h0M885.5 86.5h0M1026.3 214.7h0M977.3 248.9h0M962.2 206.3h0M1031.1 153.5h0M866.7 220.5h0M880.9 115.9h0M1015.8 196.8h0M1037.6 232.3h0M922.6 136.8h0M886.7 219.1h0M1021.7 147.5h0M981.5 159.7h0M986.9 169.9h0M926.2 161.1h0M1021.3 116.7h0M889.0 101.1h0M912.3 251.4h0M963.5 224.3h0M995.0 222.1h0M980.8 213.0h0M1007.5 138.2h0M928.8 240.2h0M1007.6 130.0h0M1006.1 119.4h0M883.4 179.9h0M960.8 177.9h0M900.0 228.8h0M872.3 193.4h0M968.8 87.3h0M897.5 137.3h0M924.3 79.4h0M944.7 151.8h0M898.4 134.5h0M963.1 200.4h0M1029.1 146.7h0M885.6 127.9h0M904.0 230.0h0M960.9 106.3h0M1035.0 193.1h0M1022.9 160.2h0M866.5 222.0h0M930.7 173.9h0M1001.2 89.4h0M902.1 125.8h0M888.1 232.2h0M982.1 127.3h0M1000.4 212.1h0M916.7 210.9h0M1000.4 216.6h0M934.6 146.3h0M940.4 253.6h0M971.1 238.1h0M934.5 144.9h0M911.1 188.8h0M1014.8 202.6h0M896.3 106.4h0M883.4 101.8h0M1009.5 226.3h0M1012.0 244.4h0M916.6 217.7h0M941.4 68.0h0M963.9 86.1h0M1026.6 204.8h0M957.3 231.0h0M1035.4 116.8h0M967.9 214.1h0M1042.3 152.5h0M1035.7 164.0h0M1031.5 241.1h0M995.7 226.2h0M1024.1 170.4h0M917.8 212.6h0M1033.3 226.7h0M973.1 123.4h0M999.6 90.3h0M884.2 202.6h0M907.8 214.2h0M998.5 123.2h0M941.0 200.0h0M864.2 154.1h0M964.9 240.4h0M903.3 128.5h0M901.3 75.9h0M974.1 200.7h0M979.3 197.5h0M933.6 231.6h0M1010.4 141.4h0M962.8 236.8h0M974.2 76.5h0M992.8 155.5h0M966.6 152.9h0M867.8 195.2h0M948.2 143.1h0M979.2 221.3h0M942.6 164.7h0M967.2 197.2h0M900.2 129.7h0M1021.0 133.6h0M959.5 230.1h0M967.9 241.5h0M948.3 123.5h0M950.9 148.6h0M971.0 243.3h0M1020.5 147.5h0M917.9 79.7h0M870.9 222.7h0M948.3 196.4h0M1022.2 152.0h0M895.9 208.7h0M937.1 95.8h0M1018.1 241.1h0M900.7 200.4h0M996.3 140.1h0M936.9 239.4h0M959.0 107.2h0M1014.1 251.1h0M934.9 155.4h0M1098.2 201.9h0M1078.1 169.6h0M1078.1 166.8h0M1085.7 118.1h0M1094.2 196.5h0M1096.7 179.4h0M1086.1 162.4h0M1098.3 126.2h0M1055.4 250.9h0M1048.8 123.2h0M1088.4 236.2h0M1082.2 139.5h0M1054.4 210.5h0M1094.6 120.5h0M1065.7 105.5h0M1098.1 111.9h0M1090.3 208.2h0M1051.8 170.4h0M1086.9 169.7h0M1042.0 227.4h0M1062.7 113.7h0M1040.8 186.3h0M1076.4 148.1h0M1088.0 205.3h0M1077.2 153.9h0M1096.9 238.7h0M1070.0 145.1h0M1086.4 210.9h0M1050.5 228.7h0M1045.5 195.1h0M1064.3 240.8h0M1081.1 237.2h0M1087.6 165.8h0M1074.9 127.7h0M1072.0 136.7h0M1083.5 119.0h0M1045.4 236.8h0M1057.4 113.6h0M1044.5 217.4h0M1096.3 161.6h0M1081.5 244.7h0M1046.5 190.8h0M1093.2 232.2h0M1054.4 165.4h0M1055.6 197.0h0M1036.4 240.5h0M1070.2 201.8h0M1084.4 178.4h0M1104.0 174.2h0M1001.3 185.8h0M1072.7 192.1h0M1106.4 133.2h0M1045.9 169.1h0M1106.9 192.5h0M1010.9 208.7h0M1026.9 134.9h0M1117.6 152.2h0M1014.9 229.5h0M1042.2 182.3h0M1093.9 216.3h0M1112.4 241.2h0M1104.5 149.8h0M1083.6 128.6h0M1027.5 168.8h0M1022.3 232.4h0M1004.8 210.9h0M1018.7 235.0h0M1065.9 223.8h0M1021.5 195.1h0M1110.2 158.5h0M1090.0 235.8h0M1016.3 245.7h0M1074.7 145.5h0M1102.9 164.4h0M1118.6 184.7h0M1035.1 163.1h0M1052.2 209.3h0M1117.5 166.8h0M1029.9 161.4h0M1099.2 145.7h0M1052.3 127.0h0M1082.5 205.4h0M1084.5 141.2h0M1050.0 141.9h0M1114.3 205.6h0M848.4 221.0h0M810.8 212.9h0M823.9 144.2h0M844.1 224.3h0M814.8 220.3h0M851.2 150.0h0M824.1 188.4h0M838.8 160.8h0" stroke="#0000ff" stroke-width="3.5" stroke-linecap="round" fill="none"/>
<path d="M971.5 221.6h0M988.5 84.6h0M933.9 142.1h0M991.8 196.5h0M980.9 222.6h0M1090.2 169.0h0M951.2 203.7h0M928.9 117.5h0M910.7 120.6h0M1020.5 106.1h0M994.5 163.5h0M955.0 203.0h0M1047.1 186.7h0M942.8 98.8h0M926.6 121.0h0M962.8 211.3h0M986.0 109.9h0M953.2 139.1h0M1072.4 193.1h0M1104.7 229.1h0M1080.8 250.0h0M958.0 83.1h0M991.4 101.5h0M967.4 181.9h0M965.7 170.9h0M912.8 131.0h0M1105.5 225.4h0M984.1 117.2h0M992.4 88.7h0M1040.7 129.9h0M966.5 134.8h0M1047.7 165.5h0M1024.2 222.8h0M1026.9 226.8h0M979.3 213.0h0M1003.3 231.3h0M1016.5 104.8h0M1090.6 250.2h0M964.0 81.5h0M1023.7 145.3h0M915.4 172.0h0M971.1 186.9h0M1036.7 196.7h0M1024.2 151.4h0M999.8 242.3h0M918.3 115.9h0M1106.4 234.4h0M1056.2 208.7h0M1046.6 139.7h0M964.1 103.4h0M966.5 227.1h0M908.1 177.2h0M967.6 152.3h0M1045.0 257.4h0M1015.0 103.9h0M972.4 241.9h0M1061.0 187.3h0M926.1 67.0h0M1010.7 129.3h0M969.6 226.8h0M1051.3 200.9h0M989.6 230.7h0M969.2 223.2h0M933.4 262.8h0M968.6 225.8h0M1045.1 172.2h0M969.4 218.0h0M1001.7 251.1h0M1058.6 186.2h0M1036.7 191.1h0M929.5 212.4h0M1029.7 163.7h0M950.5 251.4h0M1101.6 213.0h0M977.1 247.7h0M961.1 146.4h0M1076.0 216.2h0M1030.3 248.5h0M976.6 141.1h0M972.2 213.0h0M978.0 263.0h0M979.4 100.4h0M1009.6 105.3h0M960.0 200.3h0M990.4 209.2h0M1064.9 132.9h0M1012.5 238.8h0M1001.4 112.5h0M1072.8 210.1h0M938.5 80.9h0M963.4 215.2h0M1006.8 166.1h0M954.6 130.5h0M1042.7 242.5h0M1092.1 222.4h0M907.7 172.9h0M1115.8 246.7h0M955.6 121.2h0M947.5 213.6h0M931.0 143.8h0M986.1 191.5h0M1020.8 263.6h0M1116.2 241.0h0M1096.2 228.4h0M967.0 243.4h0M941.2 135.6h0M932.3 126.8h0M1051.7 207.7h0M1060.0 186.0h0M1035.5 142.0h0M979.7 117.5h0M1038.7 258.5h0M1076.8 169.0h0M1000.3 105.8h0M963.5 125.4h0M1042.8 174.4h0M1031.6 185.9h0M922.1 128.9h0M1048.7 159.2h0M935.2 99.8h0M1018.6 225.7h0M1081.7 147.0h0M1086.6 154.2h0M987.1 231.5h0M1003.9 129.6h0M938.6 132.2h0M992.8 160.7h0M973.5 191.0h0M986.9 247.7h0M1057.4 235.0h0M1018.2 141.1h0M1076.0 179.0h0M983.9 202.1h0M1089.3 174.1h0M967.7 210.7h0M1045.2 224.6h0M926.2 120.9h0M938.9 138.0h0M974.3 176.1h0M933.9 217.9h0M1035.3 212.6h0M932.8 81.1h0M959.5 179.5h0M1086.6 252.3h0M1008.5 212.6h0M1000.5 104.4h0M946.2 203.8h0M973.7 132.7h0M1014.5 175.9h0M970.7 151.6h0M950.7 251.1h0M1018.4 172.1h0M934.8 224.1h0M985.1 201.7h0M995.2 179.6h0M906.4 183.4h0M1036.5 115.7h0M1062.6 242.8h0M937.6 214.6h0M940.4 196.1h0M1084.4 165.6h0M994.8 109.0h0M1045.7 206.4h0M975.8 226.0h0M1083.7 167.3h0M1050.2 146.9h0M1105.3 218.9h0M931.6 173.0h0M911.0 138.3h0M1015.6 166.4h0M971.4 236.1h0M973.9 245.0h0M1018.7 219.5h0M956.7 114.6h0M931.0 109.5h0M1021.5 218.0h0M990.8 257.8h0M932.8 149.6h0M983.4 205.7h0M997.8 235.9h0M933.8 84.2h0M1049.3 127.2h0M989.3 116.9h0M1003.8 201.7h0M930.6 94.7h0M908.7 183.0h0M921.2 211.3h0M1016.5 216.1h0M989.9 144.7h0M946.6 254.9h0M912.5 170.8h0M1087.5 169.1h0M924.3 170.6h0M1015.2 214.0h0M1000.1 186.4h0M1065.7 184.0h0M930.0 147.8h0M1037.5 122.5h0M1072.8 207.0h0M1014.1 157.5h0M1069.4 240.4h0M935.8 241.1h0M1115.6 246.5h0M962.2 156.0h0M1101.8 212.3h0M916.9 165.8h0M1009.5 263.2h0M1042.5 182.8h0M938.9 110.7h0M983.1 162.2h0M1026.8 164.5h0M1014.3 260.7h0M1066.4 182.0h0M1050.9 257.6h0M1075.0 216.7h0M1022.5 211.5h0M925.8 191.9h0M1060.1 143.6h0M1080.0 243.5h0M931.3 80.9h0M990.8 224.4h0M1063.9 247.9h0M937.7 239.9h0M1060.6 124.7h0M1080.9 153.3h0M1065.2 238.6h0M983.1 139.2h0M1018.6 145.2h0M1083.7 201.5h0M1087.4 222.2h0M1039.8 157.8h0M1060.3 135.5h0M996.3 157.1h0M943.3 204.0h0M981.5 159.4h0M991.0 198.1h0M985.6 217.4h0M985.9 124.7h0M923.0 73.6h0M1051.6 125.7h0M945.8 158.2h0M945.7 83.8h0M999.4 223.3h0M999.2 232.3h0M998.1 129.7h0M988.5 264.9h0M1075.1 148.8h0M939.7 180.3h0M1005.0 245.6h0M998.4 155.1h0M1088.5 209.7h0M943.5 85.0h0M960.8 76.7h0M996.6 213.8h0M1074.7 198.9h0M958.9 77.7h0M1015.4 163.6h0M1105.6 224.6h0M931.4 117.7h0M964.7 228.6h0M931.4 154.6h0M1083.3 249.9h0M999.0 109.0h0M1042.4 155.1h0M1073.0 255.6h0M988.9 133.9h0M1056.2 134.8h0M1014.6 124.3h0M1037.2 131.5h0M1036.7 110.6h0M1029.6 141.4h0M975.9 156.5h0M920.7 118.7h0M1068.0 241.0h0M1058.1 131.1h0M953.7 141.7h0M933.6 122.0h0M960.8 214.9h0M1054.9 206.4h0M987.2 239.5h0M984.8 228.9h0M1025.1 161.3h0M1035.3 118.5h0M1015.7 161.0h0M999.2 111.5h0M925.0 81.1h0M1014.6 223.8h0M923.3 226.4h0M1041.5 205.5h0M933.3 222.9h0M924.8 226.4h0M938.2 155.7h0M975.5 93.2h0M991.5 205.5h0M1082.8 246.4h0M1067.8 165.9h0M997.9 195.0h0M950.1 215.0h0M1081.8 210.7h0M996.2 198.6h0M954.5 222.0h0M936.0 179.2h0M1025.9 132.2h0M1065.2 255.9h0M1055.0 158.7h0M1065.6 249.0h0M909.3 193.5h0M958.7 204.5h0M928.7 120.5h0M933.1 133.3h0M938.6 88.3h0M972.4 88.6h0M1002.2 231.6h0M1087.7 249.2h0M954.4 223.0h0M967.8 170.2h0M980.8 114.2h0M980.3 196.0h0M922.4 185.6h0M945.0 244.7h0M1041.2 230.5h0M917.7 97.2h0M1001.1 224.4h0M1073.5 197.2h0M952.5 128.9h0M988.4 156.6h0M989.5 213.8h0M982.3 177.8h0M943.7 178.6h0M1007.2 158.6h0M1055.8 154.3h0M932.3 232.3h0M952.3 207.5h0M1069.4 141.4h0M983.4 221.4h0M1055.4 131.0h0M1057.3 216.3h0M995.5 131.0h0M1041.8 190.1h0M997.7 134.7h0M1121.5 257.5h0M1117.6 168.9h0M1148.8 182.8h0M1132.4 200.2h0M1105.3 160.6h0M1113.0 240.3h0M1134.3 209.1h0M1130.5 246.3h0M1140.8 229.6h0M1169.7 211.5h0M1110.0 153.2h0M1143.2 182.2h0M1162.5 248.3h0M1158.8 252.7h0M1141.2 259.6h0M1122.4 244.9h0M1160.7 224.0h0M1112.4 174.2h0M1110.2 153.2h0M1123.2 229.9h0M1153.7 237.9h0M1110.6 208.7h0M1147.6 254.9h0M1100.3 160.5h0M1141.5 202.8h0M1161.2 257.7h0M1115.9 254.9h0M1130.5 194.3h0M1131.5 177.9h0M1131.5 233.3h0M1111.1 154.7h0M1132.1 159.1h0M1146.1 225.8h0M1169.2 205.8h0M1113.9 181.3h0M1151.4 184.8h0M1107.4 216.4h0M1100.2 150.6h0M1155.3 190.1h0M1140.2 188.0h0M1118.2 167.1h0M1146.3 164.9h0M1122.7 237.3h0M1125.3 220.1h0M1139.1 251.2h0M1123.8 206.6h0M1155.9 182.1h0M1119.4 239.2h0M1156.1 221.0h0M1142.8 160.0h0M883.2 219.0h0M856.7 167.4h0M850.4 205.6h0M902.4 182.8h0M861.9 177.8h0M869.8 218.7h0M869.2 179.7h0M892.9 207.8h0M897.2 241.2h0M873.4 238.7h0M880.7 214.5h0M886.3 191.6h0M849.6 169.5h0M852.4 166.4h0M889.2 180.8h0M876.6 150.4h0M856.5 192.5h0M873.9 198.7h0M904.6 211.9h0M898.7 171.3h0" stroke="#00ff00" stroke-width="3.5" stroke-linecap="round" fill="none"/>
<path d="M1005.5 214.0h0M1027.6 221.6h0M1088.0 270.0h0M1134.6 200.1h0M1097.3 228.3h0M1090.8 187.4h0M1040.2 173.6h0M1125.2 257.3h0M1034.3 255.6h0M1028.5 212.9h0M1048.0 211.3h0M1098.9 210.5h0M1040.0 179.5h0M1046.2 236.9h0M1143.8 204.1h0M1079.5 181.2h0M1041.0 256.1h0M1049.1 191.9h0M1045.6 190.4h0M1127.6 175.7h0M1024.0 254.4h0M1104.3 270.7h0M1145.2 242.3h0M1069.9 182.9h0M1139.4 213.3h0M1115.7 263.1h0M1106.4 249.6h0M1057.1 237.9h0M1131.8 218.8h0M1093.5 272.8h0M1044.5 234.5h0M1145.1 243.5h0M1122.6 200.9h0M1080.7 275.2h0M1100.1 195.9h0M1138.4 251.2h0M1095.6 237.9h0M1028.7 211.1h0M1027.6 184.6h0M1125.6 229.5h0M1124.7 199.1h0M1067.3 184.2h0M1062.8 261.6h0M1013.2 218.0h0M1040.5 192.9h0M1122.2 231.3h0M1127.0 222.9h0M1008.0 253.2h0M1098.4 259.1h0M1054.3 274.7h0M1009.8 257.7h0M1109.9 245.0h0M1085.6 212.1h0M1147.7 233.7h0M1089.3 213.7h0M1095.4 233.3h0M1089.6 178.9h0M1003.9 253.8h0M1138.6 274.1h0M1090.9 256.1h0M1129.3 265.7h0M1130.6 224.4h0M1041.8 209.5h0M1033.0 250.6h0M1085.4 225.2h0M1049.1 263.9h0M1057.4 197.0h0M1004.2 264.9h0M1085.6 176.2h0M1047.0 270.9h0M1125.6 252.0h0M1042.8 172.4h0M1105.6 248.9h0M1022.3 239.3h0M1067.1 190.7h0M1080.1 256.0h0M1044.4 273.4h0M1142.9 208.6h0M1139.3 230.3h0M1116.4 248.6h0M1002.0 225.6h0M1061.0 213.4h0M1105.1 224.1h0M1088.7 231.4h0M1050.8 197.3h0M1106.5 226.1h0M1151.4 212.6h0M1053.4 238.9h0M1086.4 271.2h0M1082.3 247.9h0M1044.5 223.2h0M1091.0 256.9h0M1107.8 175.1h0M1057.4 187.1h0M1097.8 275.6h0M1084.6 172.9h0M1040.8 264.2h0M1102.4 182.2h0M1021.8 182.6h0M1106.5 202.6h0M1008.4 223.4h0M1145.8 250.5h0M1072.9 180.1h0M1060.1 258.5h0M1098.2 243.7h0M1092.2 247.5h0M1002.5 236.4h0M1002.5 217.1h0M1146.0 255.3h0M1098.5 261.1h0M1017.5 253.4h0M1089.1 198.2h0M1140.4 186.0h0M1042.9 214.5h0M1062.3 236.6h0M1107.4 201.5h0M1108.9 194.0h0M1005.9 185.7h0M1110.5 226.3h0M1075.9 206.2h0M1138.1 238.7h0M1054.9 218.9h0M1135.0 201.2h0M1139.1 208.6h0M1045.0 235.2h0M1060.7 248.5h0M1026.5 267.6h0M1035.8 213.6h0M1100.6 267.9h0M1144.6 203.9h0M1040.5 236.1h0M1088.8 224.8h0M1151.5 252.0h0M1140.9 198.4h0M1002.6 184.9h0M1099.8 217.0h0M1020.9 264.9h0M1049.6 177.9h0M1053.5 192.1h0M1102.8 247.3h0M1024.6 172.5h0M1132.4 181.0h0M1150.4 229.1h0M1008.2 192.7h0M1042.0 269.6h0M1008.4 275.6h0M1124.0 187.2h0M1086.8 179.3h0M1018.0 187.4h0M1125.7 177.7h0M1073.0 177.9h0M1043.4 173.1h0M1137.6 183.6h0M1075.6 257.0h0M1097.1 205.9h0M1140.4 277.7h0M1125.4 214.7h0M1095.2 224.4h0M1053.1 266.3h0M1016.4 221.8h0M1097.4 257.3h0M1037.8 232.4h0M1123.7 224.8h0M1052.6 188.8h0M1086.8 257.1h0M1087.1 192.8h0M1130.9 263.1h0M1074.1 246.5h0M1084.0 227.6h0M1082.6 258.6h0M1047.2 209.1h0M1033.6 251.5h0M1016.0 183.8h0M1092.8 255.5h0M1089.1 206.7h0M1072.3 176.1h0M1109.3 227.2h0M1135.8 208.8h0M1127.4 189.9h0M1009.5 207.6h0M1115.2 277.2h0M1117.3 183.6h0M1078.0 193.1h0M1056.1 251.4h0M1124.4 204.4h0M1075.9 262.4h0M1057.0 224.7h0M1091.3 185.9h0M1029.9 227.0h0M1115.4 255.4h0M1063.8 219.1h0M1147.9 273.4h0M1039.9 175.5h0M1059.4 249.3h0M1001.9 251.1h0M1134.7 213.3h0M1115.4 191.1h0M1017.4 233.1h0M1069.1 241.8h0M1005.9 272.7h0M1047.1 237.8h0M1053.6 175.2h0M1041.0 182.4h0M1112.1 174.9h0M1077.4 223.5h0M1080.9 273.1h0M1084.9 265.4h0M1119.3 264.9h0M1016.0 182.2h0M1152.0 252.7h0M1063.2 254.4h0M1143.1 197.8h0M1044.8 206.2h0M1017.8 192.2h0M1082.7 176.4h0M1011.9 142.4h0M1043.1 144.0h0M1102.1 169.9h0M1030.5 154.4h0M1042.2 164.5h0M1008.3 146.2h0M1014.1 132.8h0M1063.5 146.7h0M1095.0 162.5h0M1007.5 158.8h0M1060.7 166.0h0M1005.2 160.4h0M1061.6 151.9h0M1124.6 167.7h0M1043.6 173.5h0M1083.2 164.0h0M1012.0 173.1h0M1022.9 173.5h0M1108.3 149.2h0M1041.5 137.4h0M1125.6 161.1h0M1058.4 161.8h0M1032.2 158.3h0M1079.9 165.2h0M1011.1 169.7h0M1029.0 146.5h0M1033.7 147.9h0M1086.1 174.7h0M1027.3 128.5h0M1036.0 160.8h0M1099.5 173.2h0M1002.4 167.8h0M1018.6 127.8h0M1129.9 174.3h0M1054.1 140.4h0M1111.5 173.7h0M1060.2 160.6h0M1084.3 146.3h0M1076.0 144.7h0M1113.6 163.6h0M1036.5 162.9h0M1107.6 171.2h0M1086.1 161.7h0M1068.3 137.2h0M1058.0 146.2h0M1129.7 161.2h0M1014.5 153.7h0M1066.9 136.2h0M1081.7 143.9h0M1028.1 154.9h0M1044.9 246.7h0M1059.7 249.7h0M1059.9 271.4h0M1059.5 241.5h0M1064.0 268.4h0M1041.4 269.2h0M1059.6 280.7h0M1034.2 253.7h0M1044.8 268.8h0M1025.7 261.6h0M1079.8 242.9h0M1059.8 246.5h0M1060.4 250.2h0M1026.4 262.6h0M1069.0 244.5h0M1082.2 243.0h0M1079.0 241.9h0M1051.7 247.9h0M1024.9 250.9h0M1057.6 254.3h0M1198.4 178.9h0M1200.4 177.5h0M1152.8 180.8h0M1166.1 153.3h0M1191.1 169.8h0M1185.5 227.8h0M1162.0 245.0h0M1249.5 241.3h0M1211.2 193.7h0M1183.7 162.6h0M1197.8 239.3h0M1213.3 252.3h0M1170.0 240.0h0M1235.7 255.8h0M1167.4 252.7h0M1183.5 176.4h0M1186.4 233.6h0M1188.6 231.2h0M1215.1 207.3h0M1243.1 232.4h0M1234.1 194.5h0M1218.7 209.2h0M1246.8 230.5h0M1256.3 239.0h0M1198.1 209.7h0M1199.8 181.7h0M1204.7 206.6h0M1194.4 238.9h0M1226.9 268.2h0M1207.9 230.7h0M1195.4 248.4h0M1234.1 218.2h0M1211.9 210.1h0M1150.1 257.3h0M1191.7 254.9h0M1233.8 267.6h0M1182.4 159.0h0M1189.4 190.9h0M1213.2 205.3h0M1231.0 260.8h0M1153.8 239.9h0M1210.9 162.9h0M1236.3 200.6h0M1190.8 154.2h0M1153.9 212.6h0M1225.8 247.1h0M1213.6 203.9h0M1231.0 191.2h0M1193.3 254.7h0M1228.8 194.9h0M1254.3 213.4h0M1243.4 232.4h0M1165.1 251.3h0M1191.8 188.0h0M1170.1 226.1h0M1250.8 262.7h0M1216.5 270.6h0M1202.6 155.9h0M1197.8 253.3h0M1225.0 219.6h0M1251.7 236.6h0M1200.7 227.8h0M1168.1 182.5h0M1227.4 234.6h0M1231.9 226.2h0M1216.5 242.3h0M1158.6 263.0h0M1192.2 264.0h0M1218.8 207.4h0M1194.8 189.1h0M1193.1 158.4h0M1153.1 197.4h0M1225.4 201.0h0M1243.5 194.3h0M1212.3 211.8h0M1204.1 221.9h0M1218.3 187.7h0M1240.2 273.0h0M1158.1 203.5h0M1155.4 214.7h0M1171.7 183.6h0M1150.9 202.6h0M1220.6 231.1h0M1248.5 211.3h0M1238.3 258.9h0M1187.5 193.2h0M1246.2 221.9h0M1159.2 266.3h0M1212.9 179.3h0M1240.6 229.7h0M1205.7 253.3h0M1166.8 254.7h0M1222.7 273.0h0M1235.2 221.4h0M1229.8 215.0h0M1200.7 255.4h0M1206.6 246.1h0M1201.7 197.9h0M1239.4 244.4h0M1225.9 184.6h0M1201.6 246.6h0M1186.3 170.7h0M1183.1 168.6h0M1203.6 155.8h0M1205.4 164.2h0M1196.2 191.3h0M1241.2 212.4h0M1187.4 255.0h0M1154.1 195.3h0M1215.1 230.7h0M1249.7 272.6h0M1231.2 190.9h0M1170.9 271.2h0M1190.4 190.8h0M1156.0 166.7h0M1236.4 195.6h0M1178.4 253.3h0M1216.5 174.9h0M1206.0 242.0h0M1188.9 260.2h0M1213.7 235.4h0M1237.8 199.1h0M1152.1 213.6h0M1194.6 214.3h0M1257.6 238.3h0M945.2 214.9h0M976.4 199.8h0M941.9 242.4h0M936.7 207.5h0M978.0 236.0h0M955.4 167.0h0M943.7 190.7h0M988.8 173.2h0M990.9 197.3h0M989.6 178.2h0M943.3 198.5h0M961.2 212.8h0M952.9 162.9h0M967.5 200.9h0M994.4 221.4h0M985.0 202.3h0M979.9 153.4h0M955.5 242.7h0M955.0 186.0h0M977.1 245.2h0M959.7 211.7h0M948.4 240.2h0M977.0 185.1h0M969.4 177.7h0M990.8 203.5h0M1071.0 75.0h0M1077.0 76.0h0M1083.0 100.0h0M1204.0 152.0h0M1210.0 155.0h0M1067.0 125.0h0M1090.0 110.0h0" stroke="#000000" stroke-width="3.5" stroke-linecap="round" fill="none"/>
<path d="M757.00 44.50V351.40H1365.30M757.00 351.40H763.00M757.00 320.71H763.00M757.00 290.02H763.00M757.00 259.33H763.00M757.00 228.64H763.00M757.00 197.95H763.00M757.00 167.26H763.00M757.00 136.57H763.00M757.00 105.88H763.00M757.00 75.19H763.00M757.00 44.50H763.00M757.00 351.40V345.40M878.66 351.40V345.40M1000.32 351.40V345.40M1121.98 351.40V345.40M1243.64 351.40V345.40M1365.30 351.40V345.40" stroke="#a4a4a4" stroke-width="1" fill="none"/>
<text x="752.50" y="356.80" font-size="13.8" fill="#262626" text-anchor="end">0</text>
<text x="752.50" y="326.11" font-size="13.8" fill="#262626" text-anchor="end">0.005</text>
<text x="752.50" y="295.42" font-size="13.8" fill="#262626" text-anchor="end">0.01</text>
<text x="752.50" y="264.73" font-size="13.8" fill="#262626" text-anchor="end">0.015</text>
<text x="752.50" y="234.04" font-size="13.8" fill="#262626" text-anchor="end">0.02</text>
<text x="752.50" y="203.35" font-size="13.8" fill="#262626" text-anchor="end">0.025</text>
<text x="752.50" y="172.66" font-size="13.8" fill="#262626" text-anchor="end">0.03</text>
<text x="752.50" y="141.97" font-size="13.8" fill="#262626" text-anchor="end">0.035</text>
<text x="752.50" y="111.28" font-size="13.8" fill="#262626" text-anchor="end">0.04</text>
<text x="752.50" y="80.59" font-size="13.8" fill="#262626" text-anchor="end">0.045</text>
<text x="752.50" y="49.90" font-size="13.8" fill="#262626" text-anchor="end">0.05</text>
<text x="757.00" y="369.40" font-size="13.8" fill="#262626" text-anchor="middle">15</text>
<text x="878.66" y="369.40" font-size="13.8" fill="#262626" text-anchor="middle">20</text>
<text x="1000.32" y="369.40" font-size="13.8" fill="#262626" text-anchor="middle">25</text>
<text x="1121.98" y="369.40" font-size="13.8" fill="#262626" text-anchor="middle">30</text>
<text x="1243.64" y="369.40" font-size="13.8" fill="#262626" text-anchor="middle">35</text>
<text x="1365.30" y="369.40" font-size="13.8" fill="#262626" text-anchor="middle">40</text>
<text x="1061.15" y="388.50" font-size="15.3" fill="#262626" text-anchor="middle">SST (°C)</text>
<text transform="translate(712.90 197.95) rotate(-90)" font-size="15.2" fill="#262626" text-anchor="middle">Phosphate (mmol/m<tspan font-size="10.8" dy="-7">3</tspan><tspan dy="7">)</tspan></text>
<text x="1061.15" y="33.70" font-weight="bold" fill="#000" text-anchor="middle"><tspan font-size="15" dy="0.00">0.017 &lt; PO</tspan><tspan font-size="11" dy="7.00">4</tspan><tspan font-size="15" dy="-7.00"> &lt; 0.034 mmol/m</tspan><tspan font-size="11" dy="-7.80">3</tspan></text>
<circle cx="1303.00" cy="58.80" r="2.4" fill="#ff0000"/>
<text x="1315.50" y="63.80" font-size="12" fill="#262626">RCP2.6</text>
<circle cx="1303.00" cy="74.60" r="2.4" fill="#0000ff"/>
<text x="1315.50" y="79.60" font-size="12" fill="#262626">RCP4.5</text>
<circle cx="1303.00" cy="90.40" r="2.4" fill="#00ff00"/>
<text x="1315.50" y="95.40" font-size="12" fill="#262626">RCP6.0</text>
<circle cx="1303.00" cy="106.20" r="2.4" fill="#000000"/>
<text x="1315.50" y="111.20" font-size="12" fill="#262626">RCP8.5</text>
<path d="M758.20 155.70L1258.60 226.00" stroke="#d95319" stroke-width="1.5" fill="none"/>
<text x="1234.00" y="206.20" font-size="14" font-weight="bold" fill="#d95319">R2 = 0.09</text>
<path d="M1497.5 212.0h0M1513.4 188.1h0M1523.4 233.8h0M1538.4 215.5h0M1554.3 207.6h0M1560.3 241.4h0M1569.8 182.2h0M1579.0 199.7h0M1573.0 220.7h0M1580.1 223.5h0M1588.1 179.8h0M1592.1 214.7h0M1602.0 218.7h0M1606.0 244.5h0M1608.7 210.0h0M1576.2 211.4h0M1577.9 220.3h0M1610.9 190.3h0M1611.7 206.9h0M1568.3 203.6h0M1611.8 202.6h0M1631.4 222.3h0M1593.5 175.9h0M1574.7 229.2h0M1617.1 210.8h0M1598.4 200.9h0M1581.8 203.6h0M1576.0 211.9h0M1612.6 216.4h0M1583.7 163.6h0M1590.2 218.0h0M1603.5 223.5h0M1597.6 191.6h0M1633.5 170.4h0M1580.7 209.0h0M1612.7 194.7h0M1607.2 195.4h0M1596.0 73.8h0M1608.7 93.6h0M1608.7 100.4h0M1623.8 90.8h0M1596.0 119.4h0M1604.0 121.0h0M1596.0 153.2h0M1602.8 154.4h0M1618.7 160.3h0M1621.8 160.7h0M1623.8 168.3h0M1636.5 126.2h0M1666.3 110.7h0M1704.8 113.9h0M1692.1 128.2h0M1640.5 163.9h0M1688.3 233.7h0M1699.5 205.0h0M1674.1 240.5h0M1672.5 203.4h0M1702.6 210.0h0M1668.4 216.9h0M1683.4 236.7h0M1685.1 192.8h0M1710.1 192.1h0M1669.0 239.3h0M1708.0 151.2h0M1645.7 230.2h0M1703.6 175.6h0M1658.7 210.2h0M1707.7 155.9h0M1672.5 207.7h0M1656.3 179.1h0M1650.7 186.6h0M1656.9 140.6h0M1668.3 148.6h0M1649.0 148.7h0M1670.4 167.9h0M1692.6 179.1h0M1657.9 153.0h0M1661.8 217.0h0M1654.9 184.9h0M1698.2 226.9h0M1673.6 228.4h0M1686.4 157.5h0M1647.2 150.9h0M1697.0 176.2h0M1700.4 242.8h0M1706.2 185.4h0M1641.1 163.2h0M1656.2 206.1h0M1690.7 237.5h0M1690.9 241.9h0M1686.1 186.0h0M1700.3 162.9h0M1696.2 215.1h0M1784.3 142.0h0M1727.7 240.9h0M1723.8 185.5h0M1762.2 188.9h0M1785.3 241.6h0M1740.5 150.3h0M1788.3 185.8h0M1732.7 150.7h0M1712.8 200.1h0M1735.4 197.2h0M1789.1 189.2h0M1775.2 219.2h0M1754.3 197.2h0M1761.9 187.7h0M1734.8 235.7h0M1785.2 213.3h0M1792.0 196.9h0M1718.6 212.5h0M1720.7 218.8h0M1766.1 158.3h0M1724.7 142.8h0M1726.7 244.1h0M1731.0 233.6h0M1723.2 173.0h0M1751.4 175.2h0M1752.3 158.1h0M1721.1 212.1h0M1740.3 189.5h0M1769.8 145.2h0M1716.5 211.8h0M1749.7 245.9h0M1781.5 245.3h0M1756.1 243.4h0M1716.7 187.8h0M1782.7 178.8h0M1748.7 185.2h0M1743.7 225.7h0M1738.9 224.7h0M1774.0 225.9h0M1768.9 237.1h0M1782.5 205.8h0M1735.7 144.8h0M1783.7 230.7h0M1786.3 164.8h0M1773.6 238.8h0M1729.2 137.9h0M1726.5 159.6h0M1768.7 226.6h0M1780.3 211.9h0M1748.6 237.8h0M1772.0 162.6h0M1760.8 154.3h0M1745.3 225.7h0M1712.8 195.0h0M1748.3 166.8h0M1717.4 193.5h0M1739.8 146.1h0M1745.5 210.9h0M1718.6 222.6h0M1718.9 187.6h0M1742.6 230.7h0M1786.5 217.3h0M1736.5 171.4h0M1780.8 192.0h0M1765.0 215.8h0M1728.0 178.1h0M1791.6 172.2h0M1782.8 152.5h0M1713.2 191.2h0M1735.6 201.6h0M1776.2 139.6h0M1753.6 176.9h0M1787.6 229.2h0M1785.8 217.8h0M1740.9 204.2h0M1757.4 176.2h0M1736.2 207.5h0M1786.7 162.2h0M1741.7 152.9h0M1742.5 178.5h0M1719.8 207.1h0M1740.7 225.0h0M1732.2 216.9h0M1742.9 243.3h0M1745.6 171.9h0M1724.8 227.5h0M1739.2 233.1h0M1758.5 155.3h0M1774.4 202.2h0M1774.9 240.7h0M1728.4 162.1h0M1775.6 181.7h0M1755.5 153.1h0M1763.0 202.2h0M1760.4 221.9h0M1751.8 234.6h0M1761.6 153.2h0M1780.5 154.1h0M1787.5 238.4h0M1728.3 157.7h0M1770.6 186.1h0M1743.2 218.8h0M1740.0 149.8h0M1758.0 232.9h0M1774.2 171.3h0M1793.0 178.7h0M1720.6 172.1h0M1755.0 154.9h0M1776.2 171.9h0M1773.9 161.2h0" stroke="#ff0000" stroke-width="3.5" stroke-linecap="round" fill="none"/>
<path d="M1656.4 112.3h0M1677.4 123.4h0M1662.4 130.5h0M1670.3 134.5h0M1650.4 140.5h0M1662.4 142.5h0M1721.9 131.3h0M1648.5 169.1h0M1652.4 179.0h0M1553.1 209.6h0M1577.8 231.8h0M1608.7 209.6h0M1648.0 225.2h0M1628.5 191.2h0M1672.0 200.9h0M1638.3 221.4h0M1661.8 244.0h0M1653.1 243.1h0M1675.7 249.7h0M1677.5 228.4h0M1662.1 200.4h0M1642.8 195.7h0M1652.0 234.0h0M1671.3 175.2h0M1668.2 251.0h0M1681.5 251.1h0M1653.6 246.3h0M1654.9 242.6h0M1682.3 199.1h0M1622.8 233.5h0M1678.7 247.7h0M1646.1 205.9h0M1622.9 242.8h0M1642.9 237.5h0M1619.1 208.9h0M1665.5 235.5h0M1627.4 208.8h0M1670.1 248.5h0M1620.8 218.6h0M1675.4 221.6h0M1668.3 192.0h0M1648.1 166.0h0M1669.2 216.4h0M1664.1 172.0h0M1659.6 177.2h0M1615.9 232.3h0M1656.4 225.2h0M1663.0 230.5h0M1626.4 203.6h0M1655.0 244.2h0M1658.7 209.4h0M1670.6 242.2h0M1631.5 181.5h0M1628.9 217.8h0M1650.4 225.1h0M1678.8 225.0h0M1626.1 204.2h0M1627.0 199.8h0M1665.2 224.5h0M1657.5 243.9h0M1682.9 187.8h0M1662.5 224.0h0M1641.7 226.4h0M1630.1 203.5h0M1664.2 217.6h0M1662.3 205.9h0M1663.2 250.7h0M1674.2 198.1h0M1667.5 184.9h0M1664.8 201.5h0M1651.7 204.8h0M1662.9 212.6h0M1645.4 203.2h0M1674.7 239.1h0M1631.0 201.2h0M1676.2 231.6h0M1655.6 222.4h0M1628.1 216.8h0M1665.6 205.2h0M1642.4 204.3h0M1655.5 184.8h0M1670.7 170.7h0M1843.3 207.7h0M1770.7 176.2h0M1773.3 165.9h0M1747.5 223.0h0M1871.5 180.4h0M1768.0 214.6h0M1781.1 200.2h0M1788.2 189.0h0M1834.2 212.9h0M1857.7 197.3h0M1824.2 206.0h0M1819.7 203.6h0M1758.4 161.5h0M1806.6 204.7h0M1798.1 236.6h0M1785.1 192.2h0M1782.5 213.1h0M1802.5 216.7h0M1865.9 186.7h0M1839.0 244.4h0M1848.7 169.8h0M1823.9 187.0h0M1785.2 162.0h0M1844.4 253.5h0M1855.7 197.4h0M1821.4 239.7h0M1822.1 222.1h0M1785.7 240.4h0M1838.4 157.7h0M1787.9 160.0h0M1736.1 181.6h0M1835.4 167.4h0M1851.1 178.3h0M1857.6 205.6h0M1852.7 198.5h0M1774.7 249.2h0M1738.7 162.0h0M1755.2 211.7h0M1841.4 175.5h0M1816.6 245.4h0M1736.5 235.1h0M1804.4 191.8h0M1790.7 220.5h0M1737.9 216.8h0M1756.1 255.9h0M1801.6 171.8h0M1808.7 194.7h0M1745.7 234.9h0M1795.6 244.3h0M1841.2 242.4h0M1868.2 181.3h0M1814.4 213.0h0M1821.7 233.1h0M1842.0 222.2h0M1819.7 209.7h0M1755.5 178.5h0M1752.5 216.0h0M1820.0 173.1h0M1788.4 247.0h0M1757.5 209.0h0M1807.0 201.5h0M1775.4 256.9h0M1813.8 205.1h0M1801.1 177.7h0M1830.9 228.9h0M1744.2 190.8h0M1779.1 222.0h0M1814.6 246.4h0M1741.3 202.4h0M1836.9 166.3h0M1741.4 198.6h0M1853.9 232.6h0M1829.0 247.7h0M1838.0 198.1h0M1842.1 254.4h0M1845.7 258.7h0M1794.2 226.9h0M1796.1 163.2h0M1750.5 213.1h0M1761.8 159.1h0M1816.5 211.1h0M1804.7 150.1h0M1754.5 209.3h0M1744.7 159.8h0M1783.4 256.1h0M1842.2 249.4h0M1844.5 159.1h0M1836.3 224.4h0M1759.9 162.1h0M1794.7 186.3h0M1773.7 236.5h0M1746.5 166.4h0M1798.0 236.0h0M1841.8 243.8h0M1753.2 211.5h0M1743.1 226.5h0M1851.1 183.5h0M1788.7 155.7h0M1857.8 186.5h0M1774.7 191.2h0M1866.0 209.9h0M1791.3 203.3h0M1766.4 225.0h0M1779.3 204.5h0M1749.2 196.7h0M1818.6 245.2h0M1760.3 228.7h0M1869.8 190.1h0M1738.0 217.1h0M1774.0 228.4h0M1812.3 189.2h0M1785.5 203.8h0M1844.5 234.7h0M1796.9 190.8h0M1821.1 168.5h0M1803.4 187.1h0M1738.3 225.6h0M1748.1 181.4h0M1819.4 247.0h0M1825.0 257.5h0M1738.9 239.7h0M1838.6 228.7h0M1747.4 257.0h0M1800.1 247.9h0M1818.2 150.7h0M1766.0 243.3h0M1757.5 179.9h0M1850.1 168.4h0M1817.3 166.9h0M1759.3 210.6h0" stroke="#0000ff" stroke-width="3.5" stroke-linecap="round" fill="none"/>
<path d="M1665.8 213.8h0M1614.6 232.5h0M1660.1 191.8h0M1655.3 221.6h0M1649.8 195.3h0M1637.0 193.9h0M1607.5 220.5h0M1672.8 247.8h0M1671.2 220.2h0M1634.0 231.8h0M1625.3 192.2h0M1675.9 228.5h0M1667.5 202.6h0M1640.4 204.3h0M1653.2 233.4h0M1620.0 221.0h0M1601.1 210.3h0M1653.7 209.0h0M1646.4 202.3h0M1644.9 237.8h0M1640.2 194.9h0M1624.6 191.5h0M1605.1 231.1h0M1665.8 217.0h0M1677.4 247.3h0M1610.6 195.2h0M1674.1 225.2h0M1613.3 206.7h0M1713.7 177.7h0M1737.6 236.3h0M1707.2 249.1h0M1723.9 183.5h0M1709.4 189.4h0M1666.9 147.2h0M1683.6 135.6h0M1729.2 199.7h0M1682.3 143.9h0M1714.8 188.6h0M1728.6 215.9h0M1730.2 180.2h0M1723.6 217.0h0M1671.2 163.8h0M1687.7 207.7h0M1701.5 208.0h0M1665.8 180.8h0M1673.5 183.3h0M1738.7 145.1h0M1664.5 186.3h0M1692.3 143.0h0M1728.4 239.6h0M1725.9 218.6h0M1702.0 207.6h0M1677.1 134.9h0M1735.9 252.5h0M1684.6 202.7h0M1672.4 242.7h0M1731.6 263.7h0M1671.3 233.4h0M1736.5 156.1h0M1708.4 240.3h0M1723.5 242.4h0M1714.0 200.2h0M1704.1 234.5h0M1720.1 221.4h0M1729.2 168.5h0M1688.8 185.6h0M1683.4 227.6h0M1675.4 219.7h0M1719.7 168.9h0M1732.5 199.1h0M1681.4 197.6h0M1709.7 148.1h0M1709.9 225.7h0M1811.9 202.0h0M1833.8 195.2h0M1840.7 179.8h0M1827.0 253.4h0M1871.4 212.0h0M1800.4 200.9h0M1877.3 214.4h0M1883.2 235.8h0M1848.9 236.0h0M1849.3 201.1h0M1844.4 200.3h0M1872.7 186.7h0M1857.0 248.7h0M1791.8 263.7h0M1892.8 209.0h0M1853.0 201.4h0M1844.6 245.0h0M1797.1 180.9h0M1880.0 239.7h0M1792.0 250.9h0M1856.9 216.9h0M1877.0 207.3h0M1897.3 223.8h0M1885.0 209.5h0M1838.4 200.8h0M1808.0 253.2h0M1860.7 259.2h0M1867.0 242.8h0M1858.6 216.7h0M1800.1 264.3h0M1786.5 247.3h0M1877.8 228.1h0M1849.7 174.6h0M1791.8 246.9h0M1805.9 235.1h0M1802.4 231.0h0M1790.8 263.4h0M1873.0 189.6h0M1846.1 225.4h0M1802.5 235.6h0M1818.4 246.8h0M1798.1 215.3h0M1785.9 244.2h0M1875.6 186.4h0M1880.3 247.3h0M1821.1 222.0h0M1877.2 262.8h0M1889.8 260.2h0M1833.9 196.3h0M1885.9 190.2h0M1817.3 227.8h0M1836.0 259.1h0M1801.8 201.9h0M1878.3 218.4h0M1850.1 199.1h0M1877.0 260.8h0M1894.2 213.0h0M1816.8 172.2h0M1832.9 200.6h0M1852.3 186.6h0M1893.3 203.0h0M1871.8 233.6h0M1868.1 176.9h0M1796.5 240.1h0M1845.1 231.7h0M1833.6 239.3h0M1807.2 218.0h0M1795.1 242.4h0M1819.2 188.5h0M1846.4 244.4h0M1866.8 208.1h0M1797.3 210.2h0M1784.6 214.1h0M1797.0 234.1h0M1897.7 202.8h0M1842.1 221.8h0M1888.3 240.9h0M1809.3 256.3h0M1902.4 203.1h0M1869.6 211.4h0M1829.2 212.0h0M1789.2 247.8h0M1813.6 168.8h0M1811.4 187.4h0M1858.5 177.0h0M1900.3 237.8h0M1826.6 251.7h0M1836.3 259.5h0M1788.4 229.9h0M1847.4 252.4h0M1811.1 237.6h0M1851.3 206.2h0M1895.4 232.5h0M1869.3 232.7h0M1858.6 240.1h0M1881.3 237.8h0M1787.2 232.9h0M1858.0 178.9h0M1849.4 210.6h0M1806.2 197.1h0M1821.0 169.6h0M1846.7 246.5h0M1864.5 259.8h0M1903.3 230.4h0M1807.3 170.3h0M1860.7 175.1h0M1870.4 251.9h0M1829.0 192.8h0M1810.4 264.3h0M1840.4 201.5h0M1858.0 234.4h0M1839.5 227.0h0M1800.2 183.9h0M1827.8 227.1h0M1847.2 197.4h0M1829.0 171.3h0M1874.4 252.4h0M1878.2 241.7h0M1818.1 198.9h0M1841.9 182.4h0M1791.5 248.2h0M1851.0 251.4h0M1880.8 206.8h0M1805.9 192.8h0M1849.1 232.3h0M1823.9 202.5h0M1816.1 200.8h0M1829.6 215.8h0M1789.0 244.9h0M1885.7 226.6h0M1883.6 224.1h0M1848.7 256.1h0M1830.0 243.5h0M1830.7 210.7h0M1834.8 246.5h0M1816.9 168.6h0M1902.9 226.0h0M1786.3 172.0h0M1846.7 199.7h0M1803.8 259.6h0M1913.7 181.8h0M1698.1 129.8h0M1688.2 152.0h0" stroke="#00ff00" stroke-width="3.5" stroke-linecap="round" fill="none"/>
<path d="M1965.2 274.8h0M1946.2 207.6h0M1894.4 217.0h0M1891.8 269.9h0M1948.5 244.7h0M1974.3 219.2h0M1903.0 254.5h0M1909.0 225.5h0M1920.6 220.0h0M1933.4 216.8h0M1928.6 228.4h0M1942.0 217.2h0M1975.5 212.1h0M1930.6 226.8h0M1957.3 208.4h0M1890.8 257.9h0M1908.3 247.7h0M1953.3 238.4h0M1948.5 213.3h0M1969.3 209.7h0M1975.5 216.7h0M1947.9 231.6h0M1914.3 205.3h0M1931.1 256.9h0M1972.4 212.7h0M1938.6 198.3h0M1972.8 255.8h0M1905.7 269.7h0M1956.4 240.1h0M1942.8 236.3h0M1963.2 223.4h0M1920.8 219.2h0M1896.9 268.6h0M1911.7 199.8h0M1925.8 210.9h0M1960.1 244.6h0M1891.0 214.0h0M1964.0 241.7h0M1932.3 248.8h0M1919.9 206.9h0M1954.9 236.6h0M1972.5 268.8h0M1916.0 267.2h0M1887.1 273.7h0M1895.8 252.2h0M1967.9 250.9h0M1923.9 230.1h0M1971.2 212.9h0M1950.4 248.2h0M1905.2 254.8h0M1930.1 205.8h0M1921.5 230.6h0M1980.5 231.6h0M1972.2 234.1h0M1917.6 266.7h0M1970.6 268.8h0M1911.6 214.5h0M1951.2 212.4h0M1935.9 203.1h0M1971.6 208.9h0M1935.1 263.9h0M1968.4 246.9h0M1941.1 238.5h0M1956.0 232.3h0M1942.4 242.1h0M1970.4 266.1h0M1892.6 269.4h0M1921.4 200.4h0M1892.7 209.9h0M1927.9 223.7h0M1943.3 263.8h0M1892.3 251.6h0M1955.5 252.9h0M1914.1 222.6h0M1972.3 226.7h0M1922.4 239.8h0M1962.8 213.5h0M1929.9 263.5h0M1949.8 197.6h0M1945.2 231.1h0M1927.9 238.1h0M1896.7 250.9h0M1888.9 209.2h0M1934.2 200.1h0M1891.3 276.3h0M1951.2 255.2h0M1898.5 204.8h0M1939.2 255.8h0M1975.5 256.5h0M1897.9 241.6h0M1970.4 207.4h0M1957.7 252.5h0M1943.2 240.7h0M1931.2 237.5h0M1944.7 216.0h0M1946.0 267.0h0M1970.6 259.1h0M1908.9 206.5h0M1903.7 277.5h0M1977.0 227.6h0M1897.5 215.3h0M1919.9 266.7h0M1964.7 266.5h0M1927.9 219.1h0M1887.4 276.2h0M1912.7 202.0h0M1938.8 233.7h0M1972.1 219.9h0M1889.2 231.7h0M1969.1 246.9h0M1956.7 228.9h0M1916.9 225.7h0M1943.8 241.4h0M1915.3 253.0h0M1931.9 266.0h0M1970.4 230.1h0M1916.4 237.8h0M1922.4 242.4h0M1921.2 206.3h0M1894.4 205.1h0M1892.4 219.9h0M1955.1 202.0h0M1978.2 232.6h0M1963.4 244.8h0M1902.8 235.4h0M1940.8 253.0h0M1976.8 215.5h0M1928.7 271.5h0M1958.0 198.1h0M1910.8 242.0h0M1960.7 244.6h0M1937.5 257.7h0M1954.7 258.8h0M1940.5 245.9h0M1939.5 231.1h0M1933.5 219.5h0M1950.7 250.4h0M1925.5 215.3h0M1942.3 226.5h0M1918.4 217.6h0M1927.1 217.9h0M1928.8 255.1h0M1952.2 255.3h0M1952.3 235.8h0M1931.3 258.4h0M1933.1 243.4h0M1912.9 241.8h0M1913.4 248.4h0M1940.5 240.0h0M1940.4 232.5h0M1930.3 220.5h0M1941.1 258.6h0M1933.3 250.1h0M1937.6 239.3h0M1954.0 234.1h0M1926.3 260.3h0M1928.4 233.6h0M1930.4 233.7h0M1926.0 244.5h0M1955.9 255.9h0M1961.6 261.5h0M1948.7 228.3h0M1946.2 240.1h0M1938.6 222.8h0M1933.1 233.0h0M1932.3 247.9h0M1930.4 229.6h0M1929.7 246.6h0M1910.6 223.9h0M1950.7 223.2h0M1930.5 239.8h0M1937.6 247.2h0M1934.7 237.3h0M1927.0 227.2h0M1911.2 218.3h0M1919.6 214.9h0M1956.5 249.1h0M1942.0 238.0h0M1910.6 222.8h0M1944.9 250.8h0M1780.6 259.2h0M1695.2 227.7h0M1716.8 249.6h0M1804.8 218.6h0M1706.1 181.9h0M1758.5 206.8h0M1725.6 202.0h0M1861.2 249.0h0M1874.6 250.3h0M1687.6 188.1h0M1728.5 208.0h0M1846.7 217.4h0M1881.3 241.9h0M1836.9 253.9h0M1717.7 261.3h0M1879.0 214.6h0M1870.5 227.4h0M1774.9 249.8h0M1696.7 195.1h0M1720.3 218.0h0M1685.6 263.3h0M1863.7 171.8h0M1745.0 200.2h0M1813.5 207.8h0M1746.7 211.5h0M1839.9 173.9h0M1747.0 193.8h0M1825.8 268.2h0M1757.9 219.0h0M1842.6 244.6h0M1854.4 207.9h0M1701.0 234.2h0M1727.8 268.8h0M1885.0 195.8h0M1774.6 171.3h0M1868.2 249.4h0M1773.7 241.7h0M1800.9 229.4h0M1855.1 256.8h0M1776.1 188.7h0M1695.3 217.1h0M1809.2 209.4h0M1747.1 248.4h0M1748.5 201.0h0M1880.1 180.1h0M1739.8 238.0h0M1735.5 269.2h0M1737.5 195.8h0M1768.6 217.7h0M1706.0 231.0h0M1790.5 241.3h0M1890.4 183.2h0M1801.4 257.2h0M1794.0 219.1h0M1788.9 206.8h0M1891.7 209.1h0M1779.5 219.5h0M1764.9 235.7h0M1863.1 166.9h0M1795.2 175.1h0M1763.2 170.3h0M1782.0 189.2h0M1794.9 181.7h0M1802.4 205.2h0M1881.1 271.4h0M1891.4 165.0h0M1775.8 230.5h0M1884.6 273.7h0M1881.3 179.7h0M1769.9 194.5h0M1871.9 254.1h0M1842.7 223.8h0M1793.4 175.5h0M1834.9 229.0h0M1855.7 177.7h0M1863.9 167.7h0M1848.2 206.3h0M1846.3 262.3h0M1854.3 246.7h0M1853.5 211.1h0M1799.5 245.1h0M1760.9 257.1h0M1770.4 220.8h0M1867.2 198.8h0M1866.3 224.6h0M1771.8 204.3h0M1862.6 168.1h0M1803.5 258.5h0M1765.1 230.5h0M1765.8 268.8h0M1997.9 209.6h0M2007.9 254.5h0M2001.9 275.5h0M2021.8 277.5h0M2028.5 255.6h0" stroke="#000000" stroke-width="3.5" stroke-linecap="round" fill="none"/>
<path d="M1434.00 45.40V352.30H2042.40M1434.00 352.30H1440.00M1434.00 321.61H1440.00M1434.00 290.92H1440.00M1434.00 260.23H1440.00M1434.00 229.54H1440.00M1434.00 198.85H1440.00M1434.00 168.16H1440.00M1434.00 137.47H1440.00M1434.00 106.78H1440.00M1434.00 76.09H1440.00M1434.00 45.40H1440.00M1434.00 352.30V346.30M1555.68 352.30V346.30M1677.36 352.30V346.30M1799.04 352.30V346.30M1920.72 352.30V346.30M2042.40 352.30V346.30" stroke="#a4a4a4" stroke-width="1" fill="none"/>
<text x="1429.50" y="357.70" font-size="13.8" fill="#262626" text-anchor="end">0</text>
<text x="1429.50" y="327.01" font-size="13.8" fill="#262626" text-anchor="end">0.01</text>
<text x="1429.50" y="296.32" font-size="13.8" fill="#262626" text-anchor="end">0.02</text>
<text x="1429.50" y="265.63" font-size="13.8" fill="#262626" text-anchor="end">0.03</text>
<text x="1429.50" y="234.94" font-size="13.8" fill="#262626" text-anchor="end">0.04</text>
<text x="1429.50" y="204.25" font-size="13.8" fill="#262626" text-anchor="end">0.05</text>
<text x="1429.50" y="173.56" font-size="13.8" fill="#262626" text-anchor="end">0.06</text>
<text x="1429.50" y="142.87" font-size="13.8" fill="#262626" text-anchor="end">0.07</text>
<text x="1429.50" y="112.18" font-size="13.8" fill="#262626" text-anchor="end">0.08</text>
<text x="1429.50" y="81.49" font-size="13.8" fill="#262626" text-anchor="end">0.09</text>
<text x="1429.50" y="50.80" font-size="13.8" fill="#262626" text-anchor="end">0.1</text>
<text x="1434.00" y="370.30" font-size="13.8" fill="#262626" text-anchor="middle">10</text>
<text x="1555.68" y="370.30" font-size="13.8" fill="#262626" text-anchor="middle">15</text>
<text x="1677.36" y="370.30" font-size="13.8" fill="#262626" text-anchor="middle">20</text>
<text x="1799.04" y="370.30" font-size="13.8" fill="#262626" text-anchor="middle">25</text>
<text x="1920.72" y="370.30" font-size="13.8" fill="#262626" text-anchor="middle">30</text>
<text x="2042.40" y="370.30" font-size="13.8" fill="#262626" text-anchor="middle">35</text>
<text x="1738.20" y="389.40" font-size="15.3" fill="#262626" text-anchor="middle">SST (°C)</text>
<text transform="translate(1397.90 198.85) rotate(-90)" font-size="15.2" fill="#262626" text-anchor="middle">Phosphate (mmol/m<tspan font-size="10.8" dy="-7">3</tspan><tspan dy="7">)</tspan></text>
<text x="1738.20" y="34.60" font-weight="bold" fill="#000" text-anchor="middle"><tspan font-size="15" dy="0.00">0.034 &lt; PO</tspan><tspan font-size="11" dy="7.00">4</tspan><tspan font-size="15" dy="-7.00"> &lt; 0.05 mmol/m</tspan><tspan font-size="11" dy="-7.80">3</tspan></text>
<circle cx="1980.10" cy="59.70" r="2.4" fill="#ff0000"/>
<text x="1992.60" y="64.70" font-size="12" fill="#262626">RCP2.6</text>
<circle cx="1980.10" cy="75.50" r="2.4" fill="#0000ff"/>
<text x="1992.60" y="80.50" font-size="12" fill="#262626">RCP4.5</text>
<circle cx="1980.10" cy="91.30" r="2.4" fill="#00ff00"/>
<text x="1992.60" y="96.30" font-size="12" fill="#262626">RCP6.0</text>
<circle cx="1980.10" cy="107.10" r="2.4" fill="#000000"/>
<text x="1992.60" y="112.10" font-size="12" fill="#262626">RCP8.5</text>
<path d="M1498.90 179.20L2028.40 249.10" stroke="#d95319" stroke-width="1.5" fill="none"/>
<text x="1492.00" y="171.70" font-size="14" font-weight="bold" fill="#d95319">R2 = 0.15</text>
<path d="M128.8 593.4h0M130.7 577.8h0M131.5 569.9h0M131.1 586.1h0M131.0 539.2h0M130.7 532.8h0M129.9 538.2h0M130.4 553.1h0M131.0 554.1h0M130.6 584.8h0M132.2 566.2h0M130.6 562.1h0M133.1 543.6h0M128.8 586.6h0M130.0 549.2h0M130.6 557.9h0M132.4 590.8h0M131.8 576.0h0M132.2 593.4h0M130.4 577.7h0M129.7 564.1h0M128.8 583.5h0M130.3 534.6h0M131.7 569.6h0M130.0 565.2h0M129.1 553.5h0M129.6 554.7h0M130.2 563.9h0M131.5 571.8h0M129.7 596.8h0M129.2 544.6h0M128.8 529.7h0M130.2 588.6h0M130.3 550.8h0M131.9 530.2h0M129.7 541.3h0M130.2 588.7h0M130.3 578.9h0M129.3 565.0h0M131.0 549.1h0M131.0 534.7h0M128.3 572.4h0M132.0 589.8h0M130.2 532.8h0M129.6 556.0h0M135.1 547.4h0M130.1 579.7h0M132.0 532.6h0M131.1 581.7h0M130.6 583.0h0M130.9 554.3h0M129.4 577.3h0M129.8 540.1h0M130.1 557.5h0M131.4 591.3h0M130.6 503.7h0M131.4 512.4h0M129.8 518.4h0M130.6 611.7h0M144.5 608.9h0M148.5 513.2h0M129.8 603.8h0M131.4 597.8h0M146.9 591.9h0M248.6 465.9h0M267.7 489.0h0M278.8 485.0h0M237.9 561.3h0M256.6 558.9h0M267.7 562.8h0M317.4 560.1h0M307.4 583.9h0M344.0 589.9h0M351.1 491.3h0M353.1 562.1h0M388.9 431.7h0M393.6 450.8h0M394.0 469.5h0M392.1 492.5h0M431.8 461.5h0M372.3 588.0h0M387.8 583.6h0M390.0 548.5h0M426.6 558.1h0M428.7 588.5h0M417.6 596.5h0M404.9 538.2h0M413.0 499.6h0M383.7 606.4h0M424.1 497.5h0M419.9 557.0h0M381.4 622.2h0M406.0 529.0h0M429.0 503.6h0M414.7 595.6h0M416.9 560.3h0M387.3 525.1h0M418.3 564.1h0M416.3 604.5h0M399.2 589.3h0M408.0 604.6h0M385.2 524.9h0M423.8 530.8h0M420.0 614.8h0M433.5 505.0h0M430.8 534.0h0M376.2 533.9h0M377.0 572.0h0M371.3 600.2h0M378.3 510.7h0M377.8 551.6h0M419.3 514.7h0M391.5 610.4h0M409.8 513.4h0M402.2 610.7h0M403.4 532.4h0M381.3 620.4h0M393.5 521.8h0M385.6 577.5h0M424.8 586.3h0M408.1 543.3h0M382.9 588.4h0M391.2 536.0h0M417.2 622.3h0M424.2 511.4h0M418.5 569.5h0M371.5 606.9h0M403.8 561.6h0M371.6 571.8h0M399.5 609.4h0M428.4 512.9h0M428.4 549.5h0M421.8 604.9h0M377.4 597.2h0M429.8 627.1h0M391.5 611.7h0M374.5 617.8h0M406.6 586.4h0M418.6 530.5h0M382.4 503.4h0M415.2 499.1h0M400.6 632.6h0M376.3 568.5h0M380.1 606.2h0M431.5 628.6h0M374.8 596.2h0M404.1 508.5h0M396.6 595.4h0M415.7 558.0h0M372.7 547.7h0M388.7 543.2h0M431.3 580.2h0M390.1 601.9h0M386.6 513.9h0M405.9 539.7h0M422.6 603.1h0M392.5 621.8h0M425.9 625.0h0M431.9 618.9h0M430.5 558.6h0M532.9 529.3h0M533.4 587.9h0M439.6 628.3h0M497.7 547.8h0M483.7 628.2h0M525.7 508.7h0M458.6 515.7h0M437.9 510.9h0M492.8 583.4h0M511.3 609.7h0M504.2 623.5h0M436.7 629.6h0M478.5 599.2h0M494.0 600.3h0M500.9 512.8h0M487.7 497.3h0M521.5 596.6h0M464.6 537.2h0M467.2 507.6h0M488.1 591.0h0M468.8 552.2h0M520.5 590.4h0M448.9 522.8h0M524.3 581.6h0M449.4 557.7h0M471.5 577.5h0M519.6 604.5h0M464.5 525.6h0M444.4 529.2h0M499.3 585.2h0M485.9 597.3h0M444.6 514.5h0M451.2 592.1h0M499.4 544.1h0M520.3 530.6h0M526.3 619.4h0M452.1 587.4h0M497.6 526.8h0M460.1 508.1h0M474.1 600.6h0M468.7 603.2h0M471.0 588.1h0M468.0 577.7h0M498.7 560.9h0M462.6 502.9h0M451.0 574.0h0M485.9 499.6h0M504.3 502.3h0M449.0 616.7h0M476.2 549.3h0M498.6 560.4h0M466.7 627.8h0M499.4 561.9h0M477.9 573.7h0M516.0 546.4h0" stroke="#ff0000" stroke-width="3.5" stroke-linecap="round" fill="none"/>
<path d="M136.1 561.3h0M134.1 582.6h0M136.5 529.8h0M132.9 572.8h0M136.0 564.1h0M136.8 549.6h0M136.0 567.0h0M136.4 570.7h0M135.6 548.2h0M136.0 532.7h0M135.4 571.2h0M135.6 553.0h0M135.9 572.4h0M138.2 530.8h0M138.7 550.4h0M136.5 570.2h0M138.1 564.7h0M137.5 543.2h0M136.4 579.1h0M134.8 528.6h0M137.8 548.0h0M136.2 574.9h0M136.1 541.2h0M137.6 543.9h0M137.2 547.7h0M134.1 565.1h0M138.8 552.2h0M136.8 546.6h0M137.1 550.1h0M135.7 569.6h0M138.7 570.3h0M136.7 569.7h0M134.6 551.2h0M136.0 554.3h0M137.5 530.4h0M137.4 542.2h0M138.2 542.2h0M136.6 585.2h0M138.9 540.5h0M136.9 578.8h0M135.2 531.8h0M136.8 554.7h0M138.5 548.0h0M138.1 561.2h0M135.6 546.8h0M136.6 477.4h0M136.6 485.8h0M135.8 505.6h0M139.8 507.2h0M134.6 518.4h0M135.8 593.8h0M134.6 599.8h0M135.4 606.6h0M277.6 528.3h0M294.7 528.3h0M305.4 539.4h0M305.4 450.8h0M316.2 458.8h0M344.0 581.9h0M353.9 554.1h0M375.0 529.5h0M385.3 502.5h0M429.8 470.7h0M465.6 482.6h0M406.4 535.0h0M451.5 644.3h0M445.2 595.4h0M435.0 602.0h0M394.9 560.8h0M416.2 546.2h0M426.6 636.4h0M443.0 564.9h0M421.0 633.4h0M429.1 558.0h0M432.8 542.4h0M445.3 569.6h0M416.0 621.5h0M401.5 581.6h0M399.6 567.6h0M441.8 548.1h0M400.3 542.9h0M420.8 603.5h0M452.2 582.4h0M401.2 532.2h0M430.4 608.4h0M446.8 540.0h0M396.5 535.5h0M424.7 620.2h0M414.3 551.7h0M399.9 582.8h0M409.3 602.5h0M422.3 601.4h0M401.3 591.8h0M425.7 605.6h0M409.2 540.9h0M404.2 600.7h0M450.3 589.4h0M427.3 584.6h0M454.0 562.8h0M410.6 547.2h0M414.7 608.8h0M457.6 522.6h0M400.9 551.0h0M441.4 558.7h0M494.2 571.4h0M479.2 563.3h0M461.3 524.9h0M556.9 564.2h0M531.6 525.3h0M476.1 616.5h0M514.6 533.5h0M525.8 608.8h0M542.3 518.7h0M562.7 545.9h0M496.8 496.8h0M568.0 570.6h0M521.8 632.3h0M467.2 526.6h0M466.6 559.2h0M461.1 632.7h0M517.1 615.7h0M557.4 632.0h0M493.3 584.8h0M533.6 634.7h0M491.3 587.9h0M549.6 569.2h0M466.4 612.2h0M462.9 549.3h0M492.2 551.4h0M560.8 638.2h0M561.3 618.7h0M461.7 576.5h0M521.0 589.2h0M508.2 610.3h0M464.4 614.9h0M560.3 558.0h0M553.3 615.8h0M470.3 561.6h0M475.4 641.0h0M543.6 621.9h0M520.0 611.5h0M484.2 558.5h0M527.7 622.0h0M512.9 516.4h0M481.2 513.6h0M558.3 549.4h0M496.7 530.7h0M526.0 561.9h0M534.1 608.2h0M554.8 538.8h0M516.9 616.1h0M517.6 543.5h0M529.6 521.8h0M530.7 570.6h0M530.1 591.8h0M498.4 522.1h0M468.1 587.6h0M501.0 503.2h0M558.4 592.1h0M567.5 559.7h0M489.1 563.8h0M496.2 540.5h0M545.2 567.9h0M480.4 533.8h0M551.9 580.0h0M557.2 610.2h0M463.5 530.6h0M538.7 541.1h0M510.9 599.7h0M481.5 544.1h0M472.6 593.1h0M544.5 579.9h0M536.9 545.4h0M550.3 597.8h0M545.9 640.7h0M490.6 536.5h0M513.0 512.8h0M509.5 561.6h0M498.7 616.0h0M484.0 597.5h0M539.6 542.5h0M562.4 623.2h0M468.5 526.7h0M522.8 618.0h0M543.5 591.0h0M540.9 563.8h0M533.7 568.5h0M468.1 595.8h0M527.7 565.5h0" stroke="#0000ff" stroke-width="3.5" stroke-linecap="round" fill="none"/>
<path d="M141.0 587.6h0M143.0 533.4h0M141.0 589.2h0M140.8 594.7h0M140.2 596.4h0M140.0 566.4h0M139.6 560.5h0M142.6 548.0h0M143.1 597.3h0M142.7 582.5h0M141.8 565.4h0M141.7 596.4h0M143.6 591.3h0M143.6 569.8h0M142.3 577.8h0M139.2 594.7h0M139.1 583.1h0M142.4 581.0h0M141.1 562.8h0M139.4 579.6h0M143.0 546.8h0M141.7 571.0h0M141.8 590.6h0M140.0 554.7h0M140.2 533.6h0M142.1 566.6h0M139.1 577.9h0M140.8 565.5h0M140.2 565.7h0M138.8 595.5h0M141.7 575.7h0M140.6 594.6h0M142.8 571.2h0M142.9 537.5h0M141.6 582.3h0M139.9 581.1h0M142.6 596.8h0M144.4 567.4h0M139.9 579.2h0M141.1 560.0h0M140.7 588.3h0M141.6 584.4h0M141.3 592.5h0M143.0 586.5h0M139.6 548.0h0M141.8 459.6h0M141.8 469.1h0M140.6 495.3h0M142.6 517.2h0M146.5 517.2h0M139.4 609.7h0M140.6 599.8h0M172.4 434.1h0M331.3 430.2h0M341.2 446.8h0M305.4 516.4h0M321.3 515.2h0M331.3 538.2h0M369.0 585.9h0M375.8 554.1h0M435.8 434.9h0M450.5 479.8h0M487.0 480.6h0M403.5 543.0h0M404.0 646.4h0M408.7 640.8h0M400.5 602.8h0M423.5 570.3h0M411.0 625.8h0M431.2 601.5h0M388.1 565.2h0M417.9 648.5h0M411.2 567.4h0M424.8 554.9h0M413.0 578.7h0M373.9 565.2h0M393.5 553.7h0M425.9 630.4h0M405.4 561.8h0M414.7 603.4h0M418.2 642.5h0M420.0 628.9h0M419.4 629.9h0M379.3 605.8h0M395.5 559.6h0M409.3 630.1h0M414.7 553.6h0M383.2 560.3h0M420.9 553.7h0M422.9 582.4h0M409.3 571.4h0M416.8 593.6h0M419.6 605.7h0M575.1 552.7h0M527.6 594.8h0M547.5 639.7h0M507.8 546.2h0M441.9 647.7h0M472.5 503.3h0M585.6 624.5h0M444.7 521.5h0M542.2 520.1h0M491.9 589.7h0M481.1 521.8h0M465.3 508.4h0M474.5 541.7h0M457.6 523.0h0M515.2 569.2h0M570.9 640.0h0M483.5 530.0h0M526.5 519.8h0M449.8 634.1h0M436.0 502.1h0M573.6 602.0h0M547.2 563.5h0M524.9 602.1h0M514.0 650.0h0M565.7 526.1h0M573.8 568.2h0M495.0 580.5h0M591.1 607.5h0M503.8 570.7h0M492.4 619.2h0M487.2 622.1h0M492.2 648.5h0M482.3 554.6h0M508.8 572.5h0M523.9 616.7h0M503.1 499.4h0M586.4 587.4h0M491.3 561.9h0M454.8 490.0h0M454.8 489.8h0M492.0 558.9h0M544.2 553.4h0M467.0 579.0h0M533.8 538.2h0M464.8 628.4h0M466.7 530.2h0M552.8 649.9h0M521.1 593.4h0M493.3 506.4h0M583.5 606.2h0M515.6 648.8h0M520.4 549.8h0M470.3 509.2h0M557.4 642.2h0M456.2 502.0h0M530.7 647.8h0M448.0 496.3h0M499.7 626.2h0M591.0 582.3h0M435.5 645.7h0M474.1 547.3h0M579.3 618.8h0M586.5 590.4h0M533.9 570.0h0M514.6 623.6h0M540.8 536.3h0M471.9 554.5h0M473.6 640.5h0M556.4 635.7h0M474.4 560.4h0M489.2 607.8h0M479.4 608.4h0M533.2 551.1h0M578.9 610.9h0M590.5 603.9h0M592.6 538.2h0M564.5 528.9h0M530.8 542.1h0M572.2 650.4h0M461.8 647.4h0M585.0 644.3h0M474.0 510.7h0M564.9 569.9h0M532.2 619.9h0M476.8 609.2h0M520.4 565.6h0M447.5 590.4h0M584.7 556.5h0M506.1 642.5h0M513.2 513.9h0M509.7 626.5h0M509.0 646.4h0M485.8 522.2h0M590.3 648.6h0M509.8 506.6h0" stroke="#00ff00" stroke-width="3.5" stroke-linecap="round" fill="none"/>
<path d="M156.9 554.3h0M156.0 575.2h0M156.7 601.8h0M155.0 560.7h0M156.8 586.5h0M154.8 579.2h0M156.9 582.4h0M155.5 584.9h0M156.4 586.1h0M158.9 579.6h0M156.5 569.5h0M154.6 567.0h0M156.0 606.4h0M156.3 608.2h0M154.8 590.4h0M157.0 593.4h0M156.2 580.4h0M153.8 570.6h0M158.0 578.5h0M156.1 566.9h0M157.5 609.1h0M156.0 589.4h0M155.9 564.4h0M157.6 591.8h0M158.8 593.8h0M154.4 564.9h0M156.1 565.9h0M154.8 597.4h0M155.4 579.9h0M155.6 559.9h0M157.4 595.7h0M152.9 574.4h0M153.7 593.3h0M154.9 604.0h0M156.5 603.9h0M154.2 566.7h0M155.6 604.2h0M157.6 606.8h0M154.8 586.0h0M155.9 577.3h0M157.2 557.5h0M156.8 560.8h0M157.7 462.7h0M160.4 459.6h0M159.2 507.2h0M155.7 523.1h0M158.4 527.1h0M157.7 542.2h0M155.7 549.3h0M159.6 554.1h0M154.5 619.7h0M156.5 612.9h0M369.0 496.5h0M394.8 450.8h0M382.9 485.8h0M489.4 465.9h0M501.3 501.3h0M624.5 540.2h0M550.5 543.2h0M498.5 646.9h0M484.7 557.6h0M494.3 648.2h0M518.0 626.3h0M499.4 630.7h0M543.1 576.1h0M527.2 646.7h0M519.2 620.3h0M481.6 616.6h0M544.9 565.0h0M553.0 559.6h0M478.0 636.7h0M521.6 610.4h0M548.7 539.1h0M511.2 570.5h0M514.2 578.8h0M488.4 639.4h0M485.3 596.7h0M517.6 600.6h0M556.2 586.5h0M519.6 601.9h0M507.0 544.3h0M523.5 654.3h0M550.8 575.8h0M517.2 562.9h0M522.4 631.7h0M523.8 554.4h0M507.6 571.9h0M522.5 579.1h0M502.8 547.2h0M523.4 606.5h0M509.5 566.1h0M523.8 585.8h0M538.3 539.0h0M555.2 648.6h0M521.0 578.6h0M505.8 613.0h0M550.7 607.6h0M543.1 645.8h0M504.3 600.9h0M482.6 616.8h0M520.1 598.9h0M482.8 660.4h0M550.0 651.8h0M546.2 645.2h0M478.1 657.9h0M551.6 613.9h0M542.5 566.1h0M525.5 589.3h0M526.0 587.7h0M556.6 585.9h0M504.1 605.5h0M541.8 551.8h0M518.8 660.0h0M495.1 598.0h0M558.3 635.2h0M524.2 606.3h0M496.9 579.3h0M552.7 591.2h0M538.3 539.5h0M544.4 585.7h0M530.6 627.3h0M484.3 617.8h0M510.6 586.7h0M504.6 644.2h0M481.6 600.5h0M489.6 599.4h0M556.8 643.6h0M486.9 587.7h0M541.0 603.5h0M492.6 601.2h0M551.0 562.2h0M519.0 596.8h0M475.6 654.3h0M486.6 559.8h0M487.9 625.1h0M530.2 555.2h0M490.9 623.0h0M501.3 607.8h0M551.4 645.6h0M521.2 580.2h0M520.1 545.1h0M531.9 595.1h0M510.1 612.2h0M546.1 545.5h0M534.4 607.3h0M546.5 562.6h0M516.7 639.5h0M510.6 599.1h0M558.4 625.6h0M480.2 660.6h0M542.6 552.3h0M536.9 643.9h0M541.8 549.7h0M439.1 641.8h0M458.5 599.9h0M442.5 595.7h0M434.4 624.4h0M433.5 626.9h0M442.1 619.7h0M438.7 562.0h0M420.2 613.9h0M574.5 627.7h0M644.2 641.0h0M641.2 646.4h0M573.5 616.2h0M590.7 625.3h0M605.9 642.5h0M613.5 651.7h0M646.2 664.0h0M581.4 605.3h0M575.9 637.7h0M635.2 651.3h0M627.1 616.0h0M613.9 636.4h0M615.4 665.4h0M592.4 634.0h0M598.3 606.4h0M602.3 643.6h0M586.7 619.1h0M575.3 591.7h0M597.6 663.2h0M584.7 636.2h0M582.5 656.6h0M629.4 618.8h0M591.8 661.1h0M603.8 654.7h0M567.1 585.7h0M645.4 656.3h0M616.9 662.3h0M617.5 641.3h0M588.9 635.4h0M566.2 654.4h0M578.0 652.7h0M593.9 635.2h0M594.5 611.2h0M610.0 606.2h0M620.7 665.5h0M631.3 645.2h0M575.1 605.9h0M581.9 588.5h0M587.2 619.6h0M610.1 646.6h0M591.3 625.9h0M637.4 618.0h0M620.5 650.1h0M611.5 663.1h0M571.9 618.8h0M616.0 642.7h0M582.9 661.6h0M588.8 643.0h0M579.5 645.7h0M630.8 618.6h0M591.7 646.8h0M591.5 639.9h0M644.5 658.8h0M567.3 651.3h0M580.1 654.4h0M595.5 618.1h0M592.5 664.4h0M566.8 657.5h0M597.8 644.4h0M622.2 548.8h0M587.9 577.5h0M622.2 576.7h0M618.2 593.4h0M574.2 599.0h0M576.7 573.7h0M599.7 566.7h0M617.3 571.7h0M601.9 593.9h0M603.9 599.5h0M628.3 578.1h0M619.2 571.6h0M627.1 560.2h0M585.0 593.5h0M605.7 546.3h0" stroke="#000000" stroke-width="3.5" stroke-linecap="round" fill="none"/>
<path d="M77.50 428.40V735.50H686.00M77.50 735.50H83.50M77.50 633.13H83.50M77.50 530.77H83.50M77.50 428.40H83.50M77.50 735.50V729.50M153.56 735.50V729.50M229.62 735.50V729.50M305.69 735.50V729.50M381.75 735.50V729.50M457.81 735.50V729.50M533.88 735.50V729.50M609.94 735.50V729.50M686.00 735.50V729.50" stroke="#a4a4a4" stroke-width="1" fill="none"/>
<text x="73.00" y="740.90" font-size="13.8" fill="#262626" text-anchor="end">0</text>
<text x="73.00" y="638.53" font-size="13.8" fill="#262626" text-anchor="end">0.05</text>
<text x="73.00" y="536.17" font-size="13.8" fill="#262626" text-anchor="end">0.1</text>
<text x="73.00" y="433.80" font-size="13.8" fill="#262626" text-anchor="end">0.15</text>
<text x="77.50" y="753.50" font-size="13.8" fill="#262626" text-anchor="middle">-5</text>
<text x="153.56" y="753.50" font-size="13.8" fill="#262626" text-anchor="middle">0</text>
<text x="229.62" y="753.50" font-size="13.8" fill="#262626" text-anchor="middle">5</text>
<text x="305.69" y="753.50" font-size="13.8" fill="#262626" text-anchor="middle">10</text>
<text x="381.75" y="753.50" font-size="13.8" fill="#262626" text-anchor="middle">15</text>
<text x="457.81" y="753.50" font-size="13.8" fill="#262626" text-anchor="middle">20</text>
<text x="533.88" y="753.50" font-size="13.8" fill="#262626" text-anchor="middle">25</text>
<text x="609.94" y="753.50" font-size="13.8" fill="#262626" text-anchor="middle">30</text>
<text x="686.00" y="753.50" font-size="13.8" fill="#262626" text-anchor="middle">35</text>
<text x="381.75" y="772.60" font-size="15.3" fill="#262626" text-anchor="middle">SST (°C)</text>
<text transform="translate(41.20 581.95) rotate(-90)" font-size="15.2" fill="#262626" text-anchor="middle">Phosphate (mmol/m<tspan font-size="10.8" dy="-7">3</tspan><tspan dy="7">)</tspan></text>
<text x="381.75" y="417.60" font-weight="bold" fill="#000" text-anchor="middle"><tspan font-size="15" dy="0.00">0.05 &lt; PO</tspan><tspan font-size="11" dy="7.00">4</tspan><tspan font-size="15" dy="-7.00"> &lt; 0.1 mmol/m</tspan><tspan font-size="11" dy="-7.80">3</tspan></text>
<circle cx="623.70" cy="442.70" r="2.4" fill="#ff0000"/>
<text x="636.20" y="447.70" font-size="12" fill="#262626">RCP2.6</text>
<circle cx="623.70" cy="458.50" r="2.4" fill="#0000ff"/>
<text x="636.20" y="463.50" font-size="12" fill="#262626">RCP4.5</text>
<circle cx="623.70" cy="474.30" r="2.4" fill="#00ff00"/>
<text x="636.20" y="479.30" font-size="12" fill="#262626">RCP6.0</text>
<circle cx="623.70" cy="490.10" r="2.4" fill="#000000"/>
<text x="636.20" y="495.10" font-size="12" fill="#262626">RCP8.5</text>
<path d="M128.80 518.00L649.80 613.60" stroke="#d95319" stroke-width="1.5" fill="none"/>
<text x="186.30" y="516.80" font-size="14" font-weight="bold" fill="#d95319">R2 = 0.09</text>
<path d="M808.3 513.3h0M809.1 518.6h0M814.4 519.7h0M815.1 523.9h0M816.7 526.2h0M811.4 528.4h0M806.8 528.4h0M815.1 530.7h0M818.9 532.2h0M809.8 536.8h0M812.9 539.8h0M810.6 542.1h0M815.1 545.1h0M818.2 546.6h0M806.8 545.4h0M812.1 548.9h0M815.9 550.8h0M820.4 551.1h0M840.9 539.0h0M832.5 546.3h0M835.6 549.6h0M840.9 557.2h0M834.1 560.2h0M811.4 562.5h0M814.4 561.0h0M846.9 544.3h0M850.0 545.1h0M853.0 546.3h0M856.0 550.4h0M853.7 553.9h0M848.4 552.7h0M862.1 554.2h0M864.3 551.1h0M867.4 547.4h0M869.6 552.7h0M873.4 557.2h0M877.2 561.0h0M881.7 563.3h0M875.7 536.3h0M894.6 571.6h0M873.4 579.9h0M883.3 581.7h0M862.1 581.7h0M853.7 576.9h0M892.3 586.0h0M899.2 592.8h0M809.1 582.9h0M909.7 581.1h0M913.5 587.5h0M916.6 586.0h0M918.1 589.7h0M921.1 590.2h0M907.5 598.8h0M934.0 598.8h0M813.6 525.4h0M816.7 522.4h0M812.1 522.4h0M809.1 525.4h0M813.6 533.0h0M816.7 540.6h0M814.4 543.6h0M809.1 546.6h0M819.7 543.6h0M951.8 620.9h0M954.4 623.5h0M957.9 625.3h0M960.6 624.4h0M967.6 630.2h0M971.2 629.7h0M975.6 639.4h0M832.9 691.9h0M832.9 700.1h0M842.0 689.1h0M851.2 692.8h0M855.8 689.1h0M860.3 690.1h0M854.8 702.9h0M860.3 702.9h0M863.1 707.4h0M866.7 700.1h0M871.3 701.0h0M872.2 687.3h0M873.1 678.2h0M876.8 675.4h0M882.3 676.4h0M862.2 679.1h0M871.3 679.1h0M851.2 665.4h0M862.2 661.7h0M864.9 660.8h0M853.0 649.8h0M864.0 648.0h0M846.6 644.4h0M848.4 633.4h0M854.8 625.2h0M864.0 626.1h0M868.6 628.8h0M873.1 628.8h0M858.5 615.1h0M853.9 611.5h0M849.4 609.6h0M843.0 607.8h0M839.3 612.4h0M837.5 628.8h0M882.3 649.8h0M873.1 648.0h0M872.2 653.5h0M887.8 655.3h0M892.3 668.1h0M895.1 664.5h0M898.7 657.2h0M896.0 658.1h0M900.5 669.0h0M904.2 668.1h0M899.6 673.6h0M909.7 669.0h0M917.0 671.8h0M915.2 663.6h0M920.7 659.0h0M924.3 663.6h0M925.2 675.4h0M928.9 679.1h0M931.6 686.4h0M936.2 686.4h0M940.8 679.1h0M944.4 693.7h0M949.9 688.2h0M953.6 690.1h0M938.0 712.0h0M951.7 701.0h0M942.6 719.3h0M949.9 712.0h0M957.2 715.7h0M918.8 715.7h0M908.8 706.5h0M928.0 704.7h0M933.5 703.8h0M917.0 696.5h0M921.6 693.7h0M925.2 699.2h0M895.1 682.8h0M901.5 695.5h0M898.7 706.5h0M900.5 635.2h0M902.4 639.8h0M906.0 638.0h0M909.7 640.7h0M911.5 643.4h0M917.0 644.4h0M922.5 649.8h0M925.2 648.0h0M928.0 646.2h0M924.3 655.3h0M935.3 600.5h0M938.9 602.3h0M940.8 605.1h0M937.1 609.6h0M936.2 612.4h0M909.7 599.6h0M917.0 603.2h0M926.1 600.5h0M907.9 613.3h0M912.4 617.9h0M920.7 618.8h0M928.0 617.9h0M926.1 638.0h0M951.7 619.7h0M957.2 622.4h0M953.6 642.5h0M959.0 627.9h0M957.2 670.0h0M878.6 628.8h0M884.1 628.8h0M871.3 598.7h0M867.6 597.7h0M854.8 637.0h0M849.4 633.4h0M813.7 601.4h0M811.9 606.9h0M809.1 613.3h0M808.2 617.9h0M810.1 625.2h0M807.3 634.3h0M808.2 637.0h0M812.8 643.4h0M813.7 639.8h0M814.6 630.6h0M817.4 628.8h0M823.8 630.6h0M831.1 623.3h0M821.9 622.4h0M815.5 620.6h0M820.1 612.4h0M811.0 708.3h0M812.8 712.0h0M813.7 715.7h0M811.0 719.3h0M814.6 720.2h0M815.5 714.7h0M810.1 649.8h0M807.3 653.5h0M1033.7 718.7h0M983.1 708.4h0M985.4 674.6h0M986.9 707.4h0M965.6 702.3h0M987.2 674.8h0M995.5 687.0h0M998.8 714.7h0M1005.7 679.4h0M1037.2 708.2h0M1043.2 720.0h0M991.6 695.2h0M1003.4 708.0h0M1016.3 711.6h0M1004.6 698.4h0M963.2 688.8h0M980.8 680.1h0M963.5 671.6h0M1000.9 709.2h0M1041.9 719.5h0M1026.6 690.6h0M1011.8 713.1h0M1017.2 685.3h0M975.6 717.0h0M1034.3 716.8h0M962.7 685.8h0M972.4 700.0h0M978.6 713.6h0M1001.6 703.7h0M967.6 704.1h0M1030.6 697.7h0M955.2 707.2h0M1039.9 713.3h0M1029.5 702.5h0M987.0 685.7h0M970.1 701.4h0M985.9 710.7h0M974.6 680.1h0M959.1 681.1h0M1032.4 711.6h0M1022.6 696.9h0M987.0 718.0h0M999.8 692.1h0M953.2 677.2h0M997.8 706.6h0M958.1 686.6h0M1015.0 685.1h0M1013.7 697.6h0M998.9 713.1h0M1027.5 704.5h0M960.8 694.7h0M1021.4 692.1h0M979.7 691.4h0M960.0 694.1h0M1020.2 704.1h0M972.1 685.4h0M985.5 716.5h0M972.1 691.8h0M998.6 688.8h0M984.2 683.3h0M957.0 710.5h0M1000.8 691.9h0M977.2 689.7h0M987.7 698.5h0M985.7 698.3h0M951.4 691.8h0M969.7 683.7h0M970.0 695.9h0M974.4 705.1h0M1009.7 708.2h0M962.8 716.2h0M955.7 667.7h0M968.5 718.8h0M969.1 708.0h0M996.9 677.2h0M984.7 695.3h0M1010.4 695.2h0M988.4 715.0h0M998.6 686.7h0M1000.4 712.5h0M1014.0 707.0h0M1001.3 691.2h0M991.3 674.7h0M1041.7 713.9h0M969.3 687.1h0M980.1 676.0h0M985.2 709.2h0M961.3 698.3h0M980.4 694.5h0M963.1 669.9h0M1015.2 720.0h0M967.5 690.9h0M1042.5 710.9h0M1030.0 696.2h0M967.5 695.7h0M979.5 710.9h0M964.0 681.6h0M952.1 676.2h0M1051.4 717.1h0M996.0 714.9h0M1010.4 699.7h0M1007.3 700.6h0M1024.5 708.8h0M950.8 687.7h0M1039.1 714.9h0M1022.7 703.6h0M1002.2 708.4h0M967.3 678.3h0M1015.3 707.1h0M988.8 704.6h0M1041.9 719.4h0M1069.3 709.9h0M1034.2 717.5h0M1030.2 708.9h0M1018.9 706.0h0M1045.2 711.6h0M1064.6 713.8h0M1031.9 709.5h0M1032.8 704.3h0M1066.4 718.4h0M1063.1 712.3h0M1065.8 713.1h0M1070.3 715.6h0M1058.2 709.8h0M1031.5 716.8h0M1060.4 717.5h0M1058.0 717.9h0M1061.2 709.4h0M1029.5 716.5h0M1042.8 711.7h0M1054.4 710.6h0M1031.9 710.8h0M1029.5 706.8h0M1046.5 713.1h0M1034.1 704.8h0M1040.8 718.5h0M1027.9 711.8h0M1043.9 718.3h0M1070.1 719.7h0M1055.2 713.3h0M1028.3 710.1h0M1042.9 710.7h0M1057.6 708.2h0M1070.1 721.0h0M1020.2 716.8h0M1053.0 707.5h0M1042.9 715.4h0M1042.2 717.1h0M1049.3 719.2h0M1028.5 709.7h0M974.2 673.4h0M969.2 674.1h0M967.2 671.9h0M966.9 670.0h0M967.2 672.1h0M972.7 677.1h0M970.3 673.7h0M974.4 677.6h0M977.9 678.4h0M969.3 673.9h0M976.8 678.8h0M971.3 676.0h0M971.7 675.0h0M974.5 677.4h0M972.3 675.9h0M972.5 676.1h0M978.0 678.6h0M973.3 675.2h0M970.2 674.9h0M966.4 671.2h0M978.0 678.0h0M972.3 677.1h0M976.1 678.8h0M967.0 672.3h0M966.8 672.2h0M981.8 646.5h0M975.3 640.9h0M981.4 643.3h0M973.1 638.8h0M985.7 647.5h0M988.4 649.8h0M979.9 644.6h0M980.6 644.5h0M974.3 641.2h0M978.7 642.5h0M976.5 640.7h0M973.2 640.3h0M986.1 646.9h0M977.7 640.6h0M980.9 646.4h0M979.0 643.7h0M977.3 642.3h0M985.1 647.6h0M979.2 642.8h0M976.5 642.8h0M1046.5 708.8h0M1031.8 701.2h0M1044.4 719.0h0M1034.4 698.0h0M1039.5 701.9h0M1045.8 705.3h0M1052.3 704.3h0M1028.1 700.0h0M1048.9 712.8h0M1037.3 697.4h0M1045.9 712.6h0M1061.6 715.2h0M1021.5 715.1h0M1051.2 700.5h0M1020.7 694.0h0M1039.2 722.1h0M1069.3 718.6h0M1052.9 712.8h0M1028.9 701.0h0M1057.4 703.0h0M1045.2 698.9h0M1018.3 706.0h0M1064.3 709.2h0M1027.8 703.9h0M1050.5 720.9h0M1055.2 718.6h0M1058.1 708.3h0M1029.8 703.6h0M1028.6 696.3h0M1048.1 708.4h0M1054.7 705.5h0M1050.1 703.6h0M1043.4 708.9h0M1067.3 711.9h0M1027.3 711.1h0M1183.2 711.6h0M1116.6 717.6h0M1102.3 704.7h0M1172.6 717.6h0M820.7 648.3h0M813.8 608.1h0M816.4 604.6h0M811.9 643.0h0M819.5 590.5h0M818.8 633.6h0M813.4 632.0h0M813.8 607.2h0M815.1 627.1h0M819.4 617.8h0M814.3 645.9h0M809.3 630.4h0M816.3 634.3h0M808.7 601.5h0M817.0 613.7h0M814.9 630.2h0M808.8 622.8h0M808.3 622.5h0M810.6 546.7h0M808.7 544.0h0M822.0 518.4h0M808.0 514.7h0M809.4 523.1h0M807.3 538.6h0M808.3 534.8h0M806.5 531.7h0M817.2 512.6h0M816.2 543.3h0M876.1 452.0h0" stroke="#ff0000" stroke-width="3.5" stroke-linecap="round" fill="none"/>
<path d="M823.5 517.1h0M825.0 520.9h0M819.7 525.4h0M821.9 529.2h0M828.0 528.4h0M831.0 526.9h0M831.0 531.5h0M830.3 536.0h0M818.9 538.3h0M821.2 542.1h0M808.3 524.7h0M807.6 531.5h0M812.1 533.7h0M806.8 548.9h0M824.2 551.1h0M832.5 556.4h0M807.6 564.8h0M820.4 566.6h0M816.7 585.2h0M845.4 525.4h0M856.8 530.0h0M884.8 540.2h0M887.0 542.1h0M889.3 544.3h0M895.4 545.8h0M900.7 547.4h0M904.5 548.9h0M909.0 553.4h0M912.0 554.9h0M915.0 560.2h0M918.8 564.0h0M872.7 535.7h0M865.8 560.2h0M872.7 560.2h0M880.2 559.0h0M887.8 559.9h0M892.3 558.7h0M891.6 561.7h0M930.9 572.3h0M886.3 582.2h0M900.7 585.2h0M910.5 583.7h0M921.9 585.7h0M930.2 590.5h0M947.6 583.7h0M951.4 587.8h0M955.2 590.5h0M938.5 596.6h0M848.4 544.3h0M858.3 553.9h0M815.1 530.0h0M818.2 534.5h0M813.6 537.5h0M825.7 525.4h0M951.8 587.3h0M954.4 590.9h0M957.1 591.4h0M958.8 592.6h0M956.2 608.5h0M959.7 602.3h0M971.2 602.3h0M973.8 604.1h0M977.4 605.9h0M975.6 607.6h0M966.8 614.7h0M974.7 617.3h0M951.8 619.1h0M956.2 618.6h0M961.5 621.8h0M968.5 626.7h0M974.7 631.5h0M988.8 624.4h0M991.5 627.9h0M996.8 628.8h0M1000.3 625.3h0M1002.1 633.8h0M1008.2 632.7h0M990.6 635.5h0M951.8 635.0h0M821.9 599.6h0M824.7 602.3h0M826.5 611.5h0M823.8 615.1h0M827.4 618.8h0M819.2 621.5h0M815.5 624.3h0M809.1 622.4h0M808.2 636.1h0M817.4 638.9h0M821.9 638.9h0M827.4 638.9h0M818.3 648.0h0M806.4 658.1h0M807.3 660.8h0M811.9 665.4h0M811.9 682.8h0M808.2 697.4h0M805.5 686.4h0M842.0 622.4h0M844.8 628.8h0M848.4 632.5h0M853.0 643.4h0M859.4 640.7h0M868.6 633.4h0M873.1 638.9h0M877.7 627.9h0M880.4 621.5h0M883.2 623.3h0M874.0 612.4h0M877.7 609.6h0M879.5 604.1h0M891.4 607.8h0M893.2 611.5h0M898.7 613.3h0M902.4 616.0h0M905.1 617.9h0M907.9 619.7h0M920.7 624.3h0M934.4 622.4h0M937.1 630.6h0M942.6 634.3h0M946.3 634.3h0M949.0 638.0h0M949.9 640.7h0M946.3 648.0h0M951.7 648.0h0M938.0 655.3h0M940.8 654.4h0M938.9 659.9h0M935.3 661.7h0M942.6 663.6h0M946.3 664.5h0M949.9 665.4h0M954.5 667.2h0M956.3 673.6h0M955.4 660.8h0M913.3 670.0h0M917.0 669.0h0M924.3 669.0h0M899.6 650.8h0M903.3 658.1h0M888.7 651.7h0M881.4 663.6h0M856.7 677.3h0M890.5 680.9h0M891.4 688.2h0M896.0 695.5h0M901.5 695.5h0M901.5 700.1h0M906.0 691.9h0M911.5 691.0h0M890.5 704.7h0M884.1 715.7h0M849.4 700.1h0M843.0 712.9h0M912.4 679.1h0M902.4 680.0h0M935.3 679.1h0M938.9 675.4h0M932.5 677.3h0M956.3 700.1h0M955.4 690.1h0M944.4 703.8h0M958.1 712.0h0M883.2 600.5h0M886.8 602.3h0M891.4 602.3h0M896.9 599.6h0M938.9 596.8h0M948.1 602.3h0M949.9 608.7h0M955.4 608.7h0M953.6 618.8h0M946.3 646.2h0M920.7 609.6h0M862.2 600.5h0M871.3 606.0h0M948.1 613.3h0M817.4 715.7h0M819.2 718.4h0M818.3 721.1h0M820.1 712.0h0M816.5 719.3h0M1125.8 705.6h0M962.0 680.5h0M995.9 677.3h0M1022.0 716.4h0M1099.4 717.3h0M1033.5 682.1h0M1039.5 710.9h0M1034.7 685.2h0M961.3 679.8h0M1095.9 692.9h0M1057.2 702.8h0M965.8 675.8h0M1003.0 664.9h0M973.7 684.4h0M1019.9 688.9h0M986.7 672.9h0M1078.3 698.2h0M1081.6 701.9h0M953.6 650.1h0M993.0 695.3h0M969.6 650.3h0M1037.8 699.7h0M1055.2 690.9h0M1038.3 705.4h0M1018.9 674.0h0M960.5 681.2h0M1057.2 688.5h0M965.4 683.0h0M1023.8 664.7h0M1042.3 708.5h0M1004.5 691.2h0M1032.9 661.9h0M1115.4 719.7h0M993.4 669.0h0M1005.8 692.2h0M1058.5 678.5h0M1043.5 712.8h0M1002.5 695.1h0M998.4 668.1h0M990.0 685.5h0M1080.8 702.3h0M976.9 698.5h0M1078.0 705.0h0M977.3 689.7h0M1008.7 717.8h0M995.3 669.3h0M1094.2 698.1h0M976.0 662.5h0M1043.7 684.9h0M1044.4 713.1h0M1043.6 670.8h0M998.8 662.3h0M999.1 655.4h0M992.6 681.7h0M969.1 679.3h0M1096.5 694.4h0M953.1 656.2h0M960.4 654.1h0M994.4 669.2h0M1104.4 716.4h0M955.0 681.0h0M1097.2 716.3h0M997.4 677.4h0M971.0 671.1h0M965.6 687.1h0M1037.3 679.4h0M1121.4 714.5h0M1032.3 670.4h0M1025.9 660.3h0M1113.1 718.8h0M1089.9 689.0h0M1023.3 674.7h0M973.9 660.5h0M1058.0 689.4h0M1083.6 683.5h0M1071.3 706.7h0M1034.9 676.1h0M956.8 654.3h0M1092.1 709.9h0M1041.2 683.9h0M1011.8 665.1h0M1020.5 712.6h0M1041.2 684.7h0M986.3 661.5h0M1042.1 709.7h0M1005.1 656.5h0M1061.6 701.6h0M967.8 693.3h0M1040.5 696.2h0M1098.7 700.3h0M1101.0 698.7h0M984.5 701.9h0M1091.8 692.0h0M955.8 684.8h0M1012.3 669.0h0M1050.6 700.8h0M1067.9 700.8h0M1108.2 705.0h0M1119.0 708.4h0M993.2 679.3h0M1109.0 709.3h0M1003.4 695.5h0M1018.9 659.0h0M1027.3 700.6h0M1055.0 691.2h0M969.2 652.5h0M1019.2 675.1h0M999.3 686.7h0M1034.5 714.1h0M997.6 655.7h0M1096.3 702.0h0M962.6 690.0h0M1018.3 674.8h0M1117.6 700.1h0M998.0 690.4h0M1011.3 682.6h0M956.9 672.5h0M1043.5 676.7h0M1076.1 691.9h0M991.1 666.2h0M1104.8 708.9h0M988.8 685.6h0M970.0 675.7h0M1070.3 689.1h0M974.8 658.9h0M1083.8 718.4h0M1087.6 706.0h0M1051.6 670.8h0M1103.5 719.3h0M962.5 688.2h0M1048.7 667.2h0M1014.6 712.4h0M1081.9 707.9h0M962.8 649.3h0M1048.1 680.1h0M1045.6 698.4h0M969.4 666.0h0M1048.7 708.0h0M1019.6 679.5h0M1054.2 681.7h0M984.0 697.4h0M960.4 659.4h0M973.3 687.6h0M1017.4 679.2h0M1089.6 705.2h0M1091.8 689.6h0M980.0 684.7h0M951.9 677.3h0M1008.8 656.5h0M976.3 679.5h0M1036.4 712.2h0M1062.9 718.6h0M992.1 662.6h0M1034.0 667.8h0M1121.4 702.5h0M1041.4 665.9h0M1004.3 668.4h0M1014.6 686.6h0M1051.2 676.4h0M1025.0 696.2h0M1114.9 708.3h0M1062.6 700.2h0M958.8 673.6h0M1071.9 684.3h0M1058.5 689.0h0M994.8 656.9h0M1010.6 708.6h0M1035.6 709.0h0M1050.4 707.7h0M1015.5 684.2h0M957.7 671.3h0M975.7 668.8h0M1092.1 690.2h0M1038.0 674.2h0M1048.0 671.4h0M967.2 676.0h0M1052.1 679.2h0M1012.5 696.6h0M1012.4 706.3h0M995.2 673.9h0M1026.1 650.7h0M1019.4 647.7h0M1027.4 653.2h0M1021.2 649.5h0M1019.8 649.4h0M1024.7 649.5h0M1024.8 651.6h0M1026.0 651.4h0M1013.7 645.8h0M1016.1 644.5h0M1011.5 643.7h0M1017.9 648.2h0M1026.7 652.3h0M1011.3 644.4h0M1023.6 650.5h0M1025.0 650.7h0M1022.0 648.5h0M1016.7 647.0h0M1018.4 647.7h0M1027.1 651.6h0M1013.3 644.1h0M1012.9 645.5h0M1014.3 646.4h0M1024.3 651.4h0M1014.7 644.7h0M971.3 648.3h0M971.3 650.7h0M964.5 649.1h0M967.5 650.1h0M966.0 648.9h0M966.2 646.9h0M962.9 648.0h0M970.9 650.4h0M971.8 649.2h0M967.2 650.0h0M964.5 649.7h0M966.3 648.7h0M966.8 647.7h0M969.9 649.0h0M962.6 648.0h0M967.0 648.7h0M966.9 649.4h0M968.9 648.1h0M973.1 650.1h0M969.3 649.4h0M971.1 650.3h0M971.5 650.0h0M962.3 645.6h0M962.4 647.5h0M963.8 646.5h0M1109.1 700.2h0M1051.6 704.0h0M1038.8 695.8h0M1025.4 686.9h0M1054.9 712.9h0M1020.4 698.4h0M1030.8 721.2h0M1062.3 694.2h0M1042.9 706.5h0M1034.5 722.0h0M1035.8 698.7h0M1129.3 712.1h0M1023.7 691.5h0M1121.3 722.6h0M1065.6 691.7h0M1105.8 721.9h0M1051.7 710.5h0M1077.9 718.7h0M1080.3 695.1h0M1050.9 719.9h0M1018.9 697.4h0M1095.4 694.0h0M1083.7 691.8h0M1034.2 692.3h0M1115.5 710.6h0M1056.2 713.6h0M1054.5 698.4h0M1087.5 693.5h0M1037.1 706.8h0M1097.5 721.2h0M1020.2 714.2h0M1110.2 719.5h0M1083.4 720.7h0M1052.7 709.6h0M1060.9 708.8h0M1043.7 701.9h0M1073.2 712.3h0M1112.5 702.5h0M1082.1 699.8h0M1044.1 715.8h0M1095.6 721.0h0M1092.2 696.5h0M1066.6 690.6h0M1118.5 708.8h0M1020.3 720.1h0M1045.9 722.4h0M1042.8 693.5h0M1095.5 719.0h0M1099.7 706.1h0M1049.7 716.8h0M1024.0 696.6h0M1056.9 709.8h0M1088.0 696.1h0M1039.6 695.0h0M1080.4 708.8h0M1080.4 721.9h0M1023.1 687.1h0M1095.6 714.1h0M1041.5 706.7h0M1037.4 707.1h0M1072.3 691.3h0M1029.1 722.4h0M1048.3 721.1h0M1027.5 694.7h0M1019.8 700.1h0M1085.4 710.3h0M1108.2 722.5h0M1024.9 692.8h0M1084.5 717.4h0M1069.5 711.3h0M1067.5 717.2h0M1054.8 696.0h0M1121.6 716.5h0M1043.0 711.8h0M1021.1 703.6h0M1127.2 701.0h0M1113.2 706.1h0M1097.0 716.6h0M1028.9 700.9h0M1049.9 711.5h0M1218.0 713.8h0M1208.2 718.4h0M1107.6 707.0h0M1101.5 713.8h0M1119.7 710.8h0M1130.3 716.9h0M1127.2 723.7h0M1142.4 715.3h0M1149.9 716.1h0M1103.0 707.8h0M1109.1 718.4h0M811.7 674.1h0M815.7 654.2h0M815.7 587.3h0M817.7 624.4h0M806.8 631.5h0M821.5 628.8h0M810.7 642.2h0M826.2 672.8h0M811.5 585.4h0M819.0 589.2h0M806.6 600.0h0M814.2 595.4h0M807.4 645.3h0M811.1 667.7h0M889.2 449.6h0" stroke="#0000ff" stroke-width="3.5" stroke-linecap="round" fill="none"/>
<path d="M831.8 505.0h0M836.3 506.5h0M827.2 510.3h0M832.5 511.8h0M839.4 511.0h0M837.8 516.3h0M844.7 514.1h0M844.2 517.1h0M831.8 520.1h0M826.5 519.4h0M818.9 519.4h0M852.2 519.1h0M862.8 521.2h0M876.4 525.7h0M807.6 528.4h0M806.8 552.7h0M822.7 547.4h0M835.6 551.1h0M825.0 564.8h0M806.8 570.8h0M821.9 579.2h0M807.6 584.1h0M894.6 533.3h0M907.5 533.7h0M909.0 535.7h0M911.3 536.8h0M912.8 539.0h0M912.8 541.3h0M919.6 542.8h0M916.6 547.4h0M921.1 548.9h0M925.6 548.1h0M927.9 548.1h0M934.7 551.1h0M936.2 552.7h0M928.7 554.2h0M921.9 554.2h0M917.3 554.2h0M931.7 557.5h0M937.0 561.7h0M941.5 564.5h0M912.8 565.5h0M892.3 553.4h0M898.4 554.5h0M906.0 554.9h0M878.0 545.4h0M885.5 546.6h0M869.6 538.3h0M955.2 573.9h0M909.0 574.6h0M920.3 579.9h0M930.9 581.7h0M939.3 580.2h0M947.6 583.7h0M956.7 588.2h0M828.8 517.8h0M834.8 512.5h0M809.1 531.5h0M812.1 528.4h0M955.3 573.8h0M970.3 586.5h0M972.9 590.0h0M977.4 591.8h0M981.8 592.6h0M983.5 596.2h0M982.6 605.0h0M972.1 610.3h0M997.6 599.7h0M995.9 603.2h0M1001.2 604.1h0M999.4 607.6h0M1004.7 609.4h0M1002.1 612.1h0M1001.2 616.1h0M993.2 612.9h0M985.3 617.3h0M977.4 620.9h0M976.5 625.6h0M995.0 625.6h0M1003.8 630.6h0M1010.9 625.6h0M1011.8 635.9h0M1015.3 630.6h0M1019.7 631.5h0M1023.2 628.5h0M1032.9 635.9h0M957.1 588.2h0M962.4 635.5h0M973.8 635.9h0M979.1 635.5h0M1025.9 637.6h0M899.6 603.2h0M901.5 602.3h0M904.2 603.2h0M906.9 604.1h0M909.7 606.9h0M913.3 606.0h0M917.0 608.7h0M920.7 605.1h0M926.1 607.8h0M928.0 606.9h0M914.3 612.4h0M906.0 615.1h0M917.0 618.8h0M926.1 620.6h0M929.8 621.5h0M933.5 624.3h0M946.3 626.1h0M896.9 625.2h0M936.2 635.2h0M889.6 629.7h0M882.3 633.4h0M874.0 632.5h0M869.5 627.0h0M860.3 618.8h0M848.4 598.7h0M858.5 599.6h0M870.4 599.6h0M839.3 598.7h0M830.2 602.3h0M823.8 606.0h0M820.1 609.6h0M825.6 611.5h0M829.3 615.1h0M825.6 618.8h0M827.4 625.2h0M818.3 627.0h0M810.1 628.8h0M809.1 631.6h0M821.9 633.4h0M829.3 637.0h0M843.0 636.1h0M807.3 641.6h0M823.8 652.6h0M820.1 660.8h0M806.4 668.1h0M814.6 670.9h0M816.5 676.4h0M807.3 680.0h0M812.8 691.9h0M880.4 672.7h0M882.3 696.5h0M869.5 664.5h0M876.8 651.7h0M870.4 698.3h0M896.9 690.1h0M918.8 702.9h0M924.3 694.6h0M928.0 696.5h0M933.5 686.4h0M928.0 680.0h0M918.8 679.1h0M917.0 675.4h0M924.3 668.1h0M938.9 666.3h0M936.2 670.0h0M942.6 666.3h0M949.0 668.1h0M938.0 649.8h0M948.1 652.6h0M955.4 656.2h0M904.2 635.2h0M906.0 651.7h0M918.8 649.8h0M931.6 687.3h0M938.9 686.4h0M912.4 714.7h0M828.3 709.3h0M824.7 712.9h0M826.5 721.1h0M822.9 723.0h0M821.9 718.4h0M824.7 716.6h0M1016.9 694.4h0M1003.8 695.9h0M957.1 651.8h0M1011.6 717.5h0M1103.4 696.2h0M978.3 679.1h0M1081.1 689.6h0M1098.2 689.3h0M1101.8 682.2h0M1088.7 698.3h0M979.8 664.6h0M1084.6 707.4h0M1100.3 695.2h0M980.7 691.2h0M1066.2 692.5h0M1059.0 660.6h0M1008.1 681.8h0M1086.0 697.9h0M1002.6 718.8h0M1027.4 694.1h0M1033.9 710.3h0M1049.7 675.4h0M1112.1 712.9h0M974.7 643.7h0M1091.9 680.1h0M980.9 676.8h0M1072.9 701.5h0M1092.8 698.6h0M1010.2 673.1h0M971.6 678.8h0M1020.6 681.3h0M1058.2 675.3h0M1049.6 707.7h0M1014.3 694.7h0M1001.1 681.0h0M1072.1 689.8h0M975.1 635.4h0M1053.0 672.1h0M978.8 661.1h0M959.2 662.7h0M1047.5 687.2h0M994.8 699.5h0M1013.1 656.3h0M1067.6 695.3h0M957.1 660.3h0M996.9 663.7h0M1067.2 709.3h0M1016.0 668.7h0M1019.6 667.1h0M996.6 694.9h0M1023.3 720.2h0M1005.0 646.5h0M1082.5 704.4h0M1077.3 678.9h0M994.4 639.7h0M1124.4 713.5h0M983.2 639.9h0M1060.8 667.2h0M1050.8 664.8h0M1047.8 672.6h0M1081.3 694.9h0M1018.1 676.6h0M1089.7 681.6h0M996.7 707.7h0M1013.1 682.8h0M968.5 664.1h0M1122.4 705.1h0M1115.9 707.8h0M997.4 667.4h0M1097.8 709.1h0M1095.1 704.8h0M1112.2 707.1h0M1060.1 659.4h0M1097.3 691.2h0M1089.9 698.7h0M986.9 646.0h0M1032.6 659.3h0M1025.6 677.5h0M1005.6 648.9h0M967.5 668.3h0M1035.8 703.1h0M1037.2 716.7h0M1057.7 681.4h0M993.0 668.5h0M1040.7 662.3h0M990.9 644.6h0M1052.8 707.4h0M1032.1 684.3h0M1035.4 715.0h0M1043.3 691.5h0M1068.7 663.8h0M1000.2 699.7h0M1091.7 701.5h0M1083.9 681.1h0M955.2 632.3h0M1056.1 696.5h0M1103.1 714.7h0M987.1 654.9h0M1023.5 662.1h0M1103.8 717.9h0M1044.4 684.3h0M996.0 648.4h0M1018.9 692.2h0M1012.2 708.8h0M1046.1 653.6h0M1011.6 689.4h0M1001.6 676.1h0M1123.8 718.9h0M1112.7 713.6h0M1049.5 695.8h0M966.1 645.8h0M1095.4 712.1h0M1068.8 712.4h0M975.6 637.6h0M1115.9 689.3h0M987.1 665.5h0M988.0 699.9h0M995.1 708.1h0M994.5 706.1h0M1079.9 669.1h0M954.5 664.8h0M989.5 698.7h0M1030.7 674.1h0M975.2 647.7h0M975.1 652.5h0M1090.9 682.0h0M1093.5 721.7h0M1109.7 685.5h0M973.8 687.5h0M1094.4 693.8h0M1008.0 698.2h0M1013.3 712.1h0M971.8 639.5h0M1031.5 711.8h0M1038.1 703.1h0M1034.7 690.1h0M1046.2 705.8h0M1015.6 709.1h0M985.3 661.1h0M1024.4 709.3h0M1014.9 696.6h0M1054.0 678.0h0M971.9 654.9h0M1034.9 705.0h0M973.3 676.8h0M1029.2 699.1h0M1043.4 717.5h0M1038.9 667.9h0M952.2 653.9h0M1107.6 690.2h0M1058.2 692.5h0M990.6 704.9h0M1042.1 715.3h0M1117.1 717.8h0M1048.4 717.9h0M1105.1 700.6h0M1088.5 690.5h0M1093.8 700.2h0M958.6 631.9h0M959.6 651.4h0M997.6 684.2h0M1128.6 710.8h0M1075.9 682.2h0M1126.1 712.7h0M1038.5 690.3h0M1020.0 683.1h0M1055.1 706.8h0M1070.0 714.8h0M1025.8 684.6h0M1110.0 685.1h0M1014.8 627.7h0M1017.6 626.4h0M1020.0 628.2h0M1011.1 627.0h0M1014.1 626.7h0M1015.4 628.0h0M1018.7 628.1h0M1015.4 627.7h0M1010.4 626.8h0M1020.1 630.0h0M1024.8 628.7h0M1010.4 626.5h0M1014.8 626.9h0M1017.3 627.9h0M1013.4 625.7h0M1020.4 628.2h0M1016.2 627.8h0M1024.3 629.0h0M1015.4 627.1h0M1014.9 626.0h0M1034.8 645.3h0M1043.6 653.0h0M1044.9 651.3h0M1042.0 648.1h0M1035.1 644.9h0M1048.4 652.6h0M1044.6 651.4h0M1040.9 648.6h0M1046.6 652.0h0M1044.1 651.5h0M1041.6 645.1h0M1038.0 644.3h0M1035.7 645.8h0M1038.2 646.3h0M1042.8 649.6h0M1044.4 651.1h0M1044.9 648.8h0M1044.9 650.8h0M1046.5 652.2h0M1036.2 645.9h0M1040.7 649.7h0M1042.5 648.8h0M1044.2 650.3h0M1043.7 649.0h0M1035.3 645.7h0M1088.4 699.4h0M1052.7 695.7h0M1028.9 721.8h0M1070.6 705.9h0M1096.5 708.9h0M1077.2 693.4h0M1037.1 695.9h0M1069.0 717.2h0M1097.3 717.9h0M1127.8 715.3h0M1067.1 712.2h0M1096.9 699.7h0M1053.2 710.8h0M1091.7 705.8h0M1076.6 721.7h0M1075.8 695.2h0M1034.5 702.8h0M1124.0 708.2h0M1059.8 717.4h0M1077.5 718.0h0M1123.8 720.0h0M1105.7 696.1h0M1023.4 696.4h0M1061.4 700.3h0M1073.8 692.8h0M1079.5 697.6h0M1036.4 717.5h0M1045.2 711.3h0M1020.6 688.6h0M1040.6 720.3h0M1041.8 716.3h0M1050.2 716.7h0M1058.7 701.3h0M1113.6 700.3h0M1077.5 704.0h0M1094.0 700.1h0M1096.1 700.3h0M1019.2 716.5h0M1104.6 710.0h0M1108.6 720.8h0M1069.2 701.5h0M1113.6 707.7h0M1036.6 697.6h0M1085.9 720.9h0M1065.2 711.8h0M1060.5 692.1h0M1070.7 702.7h0M1129.0 720.6h0M1040.1 691.3h0M1084.9 721.8h0M1043.1 716.1h0M1048.4 689.1h0M1100.4 709.3h0M1033.2 706.4h0M1035.8 717.5h0M1103.7 712.2h0M1066.1 693.0h0M1071.2 710.3h0M1064.3 712.8h0M1036.7 687.0h0M1118.4 713.3h0M1021.0 691.3h0M1088.7 699.8h0M1067.9 697.4h0M1091.4 711.9h0M1029.8 716.3h0M1048.2 687.8h0M1077.7 722.6h0M1024.4 694.2h0M1040.2 700.8h0M1029.1 704.4h0M1054.6 707.3h0M1054.1 694.0h0M1085.7 711.2h0M1021.3 691.8h0M1060.6 708.4h0M1054.2 709.4h0M1078.5 697.4h0M1092.2 713.8h0M1051.6 700.5h0M1100.0 686.6h0M1111.3 689.6h0M1121.9 688.1h0M1112.1 696.4h0M1122.7 698.7h0M1100.0 706.3h0M1106.1 710.8h0M1113.6 709.3h0M1116.6 706.3h0M1119.7 713.8h0M1122.7 710.8h0M1125.7 713.8h0M1130.3 715.3h0M1136.3 718.4h0M1115.1 720.6h0M1121.9 720.6h0M1127.2 722.9h0M1133.3 719.9h0M1149.9 724.4h0M1160.5 710.8h0M1174.2 719.9h0M1241.5 715.3h0M1232.4 720.6h0M1100.0 716.9h0M1107.6 718.4h0M1145.4 713.8h0M1146.9 716.9h0M813.5 594.0h0M815.5 689.5h0M822.5 681.2h0M810.9 686.9h0M822.6 652.2h0M806.1 602.4h0M808.1 611.6h0M822.9 659.9h0M828.6 616.9h0M816.7 609.2h0M825.7 655.8h0M815.8 687.6h0M807.4 624.4h0M824.9 658.6h0M881.3 430.9h0M884.9 461.9h0" stroke="#00ff00" stroke-width="3.5" stroke-linecap="round" fill="none"/>
<path d="M842.4 495.6h0M856.8 496.7h0M859.8 490.6h0M862.1 490.9h0M864.3 492.1h0M866.6 494.4h0M868.1 496.7h0M869.6 498.5h0M865.8 498.9h0M864.8 503.9h0M876.4 501.2h0M879.9 500.9h0M885.5 503.5h0M887.8 503.0h0M890.5 504.2h0M861.3 493.6h0M830.3 500.4h0M826.5 506.9h0M822.7 511.8h0M832.5 508.0h0M858.3 512.5h0M848.4 528.4h0M884.0 533.0h0M884.8 530.0h0M886.3 526.9h0M889.3 525.4h0M890.8 523.9h0M895.4 521.6h0M902.9 520.6h0M902.5 524.2h0M912.0 522.4h0M912.0 523.9h0M921.9 521.6h0M927.2 526.6h0M931.4 526.9h0M938.5 532.2h0M947.6 534.2h0M948.3 539.8h0M954.4 544.3h0M852.2 567.8h0M856.8 564.0h0M859.8 563.3h0M862.1 564.8h0M864.8 567.5h0M855.3 570.8h0M854.5 575.4h0M856.8 575.4h0M861.3 572.6h0M862.8 574.6h0M859.0 580.2h0M871.1 572.6h0M875.2 567.5h0M880.2 569.0h0M882.5 570.1h0M885.5 570.8h0M880.2 573.1h0M838.6 569.3h0M834.5 561.7h0M815.1 570.5h0M814.4 576.9h0M828.0 588.7h0M812.1 586.0h0M834.1 547.4h0M839.1 546.6h0M818.2 549.6h0M832.5 542.8h0M908.2 584.1h0M915.8 582.9h0M923.8 582.9h0M925.6 587.8h0M933.2 592.8h0M906.7 591.3h0M898.4 588.2h0M896.1 593.5h0M890.8 593.8h0M887.0 598.1h0M943.8 585.2h0M958.2 591.3h0M963.2 537.4h0M965.9 540.6h0M968.5 543.8h0M972.1 543.8h0M954.4 544.1h0M962.4 548.0h0M970.8 548.0h0M971.2 552.6h0M979.1 548.0h0M985.3 552.1h0M993.8 556.8h0M983.5 560.9h0M987.1 563.2h0M992.4 565.6h0M995.9 567.4h0M1000.3 567.9h0M1007.3 572.7h0M1009.1 577.3h0M1015.3 580.3h0M1023.8 586.5h0M1032.1 594.4h0M1028.5 598.8h0M1036.5 597.1h0M1040.0 600.6h0M1034.7 604.1h0M1017.9 603.2h0M1042.6 608.0h0M1046.2 608.5h0M1050.6 610.3h0M1055.9 605.0h0M1057.6 609.4h0M1059.4 612.9h0M1055.0 617.9h0M1059.4 622.1h0M1061.2 625.6h0M1064.7 631.5h0M1070.0 633.2h0M1076.2 632.3h0M1026.8 613.8h0M1030.3 616.5h0M1073.5 637.6h0M1036.5 630.6h0M959.7 590.9h0M965.9 591.8h0M967.6 596.2h0M975.6 597.9h0M982.6 595.3h0M989.7 599.7h0M957.1 602.3h0M964.1 605.0h0M967.6 602.3h0M980.0 612.9h0M983.5 614.7h0M980.9 618.2h0M982.6 621.8h0M991.5 614.7h0M987.9 621.8h0M990.6 623.5h0M995.0 621.8h0M1002.1 624.4h0M1005.6 619.1h0M988.8 632.0h0M1010.0 629.7h0M1015.3 632.0h0M1018.8 633.2h0M1032.9 632.3h0M1038.2 630.2h0M816.5 650.8h0M815.5 657.2h0M813.7 665.9h0M812.8 673.6h0M811.0 678.2h0M829.3 651.7h0M830.2 667.2h0M834.7 646.6h0M843.9 619.7h0M853.0 601.4h0M827.4 606.0h0M821.0 617.9h0M840.2 721.1h0M843.0 718.4h0M845.7 714.7h0M848.4 719.3h0M852.1 712.9h0M852.1 705.6h0M863.1 714.7h0M867.6 704.7h0M842.0 716.6h0M884.1 606.0h0M886.8 598.7h0M878.6 610.5h0M937.1 638.9h0M930.7 662.6h0M933.5 667.2h0M937.1 666.3h0M940.8 659.9h0M926.1 688.2h0M937.1 691.0h0M1058.9 622.3h0M1061.2 625.3h0M1065.0 632.1h0M1069.5 633.6h0M1075.6 632.9h0M1077.8 632.1h0M1068.0 638.2h0M1071.0 639.7h0M1074.1 638.9h0M1078.6 641.9h0M1086.2 640.4h0M1066.5 646.5h0M1083.1 651.0h0M1086.2 652.5h0M1092.2 649.5h0M1095.2 650.3h0M1099.8 648.7h0M1101.3 651.8h0M1104.3 652.5h0M1108.9 654.8h0M1092.2 654.8h0M1095.2 659.3h0M1098.3 658.6h0M1101.3 663.9h0M1104.3 665.4h0M1107.3 664.6h0M1033.2 630.6h0M1036.2 629.8h0M1039.3 630.6h0M1025.6 639.7h0M1028.7 638.2h0M1024.1 642.7h0M1022.6 644.2h0M1034.7 639.7h0M1037.7 648.7h0M1040.8 650.3h0M1043.8 648.7h0M1048.3 642.7h0M1051.4 644.2h0M1052.9 645.7h0M1055.9 647.2h0M1058.9 648.7h0M1062.0 650.3h0M1049.8 656.3h0M1055.9 662.4h0M1062.0 663.9h0M1065.0 665.4h0M1066.5 668.4h0M1069.5 669.9h0M1074.1 668.4h0M1065.0 673.0h0M1069.5 673.7h0M1083.1 673.7h0M1086.2 674.5h0M1089.2 676.0h0M1092.2 676.7h0M1096.7 677.5h0M1101.3 676.7h0M1105.8 677.5h0M1110.4 682.0h0M1113.4 681.3h0M1116.4 682.0h0M1121.0 683.5h0M1124.0 683.5h0M1127.0 688.1h0M1116.4 676.0h0M1121.0 677.5h0M986.3 635.1h0M989.3 632.1h0M987.8 623.0h0M1001.4 624.5h0M980.3 657.8h0M987.8 665.4h0M984.8 674.5h0M999.9 683.5h0M990.8 689.6h0M981.8 691.1h0M981.8 698.7h0M977.2 710.8h0M995.4 671.4h0M993.9 662.4h0M1003.0 663.9h0M992.4 657.8h0M983.3 653.3h0M986.3 660.8h0M1018.1 633.6h0M1015.1 632.1h0M1010.5 629.1h0M1027.2 656.3h0M1031.7 654.8h0M1034.7 660.8h0M1040.8 665.4h0M1043.8 660.8h0M1046.8 666.9h0M1055.9 671.4h0M1074.1 680.5h0M1078.6 680.5h0M1081.6 679.0h0M1086.2 683.5h0M1090.7 688.1h0M1081.6 688.1h0M1095.2 691.1h0M1101.3 692.6h0M1104.3 695.6h0M1108.9 698.7h0M1113.4 701.7h0M1117.9 700.2h0M1124.0 704.7h0M1128.5 701.7h0M1130.0 710.8h0M1125.5 713.8h0M1121.0 712.3h0M1116.4 709.3h0M1110.4 710.8h0M1107.3 716.8h0M1101.3 713.8h0M1098.3 707.7h0M1093.7 704.7h0M1089.2 701.7h0M1084.6 698.7h0M1080.1 698.7h0M1075.6 704.7h0M1071.0 707.7h0M1068.0 712.3h0M1062.0 710.8h0M1057.4 704.7h0M1054.4 698.7h0M1048.3 695.6h0M1043.8 698.7h0M1040.8 692.6h0M1037.7 695.6h0M1034.7 701.7h0M1028.7 698.7h0M1022.6 692.6h0M1016.6 695.6h0M1010.5 701.7h0M1007.5 698.7h0M1001.4 692.6h0M995.4 689.6h0M989.3 692.6h0M984.8 698.7h0M992.4 704.7h0M998.4 707.7h0M1004.5 710.8h0M1013.5 710.8h0M1019.6 713.8h0M1028.7 713.8h0M1034.7 710.8h0M1040.8 713.8h0M1046.8 710.8h0M1052.9 713.8h0M1058.9 716.8h0M1065.0 719.8h0M1071.0 716.8h0M1077.1 713.8h0M1083.1 716.8h0M1089.2 713.8h0M1095.2 716.8h0M1101.3 719.8h0M1108.9 718.3h0M1116.4 718.3h0M1122.5 719.8h0M1118.2 717.3h0M1115.0 704.0h0M1103.6 698.8h0M1117.2 703.8h0M1122.2 708.0h0M1092.9 697.7h0M1102.4 704.1h0M1089.3 711.7h0M1112.8 701.4h0M1092.1 715.1h0M1106.9 699.7h0M1115.2 705.1h0M1100.0 648.0h0M1103.0 651.8h0M1106.1 654.0h0M1108.3 654.5h0M1101.5 658.6h0M1103.0 665.4h0M1105.3 666.9h0M1106.8 663.9h0M1115.1 674.5h0M1117.4 676.0h0M1100.0 678.3h0M1104.5 677.5h0M1107.6 677.5h0M1109.8 682.0h0M1109.1 685.1h0M1115.1 682.0h0M1118.9 681.3h0M1121.2 682.8h0M1124.2 683.6h0M1129.5 682.8h0M1125.7 689.6h0M1130.3 688.1h0M1133.3 690.4h0M1137.8 686.6h0M1140.9 688.9h0M1143.9 686.6h0M1146.9 685.1h0M1136.3 678.3h0M1159.0 688.1h0M1162.8 688.9h0M1171.1 688.1h0M1128.0 694.9h0M1138.6 694.9h0M1143.9 692.6h0M1148.4 693.4h0M1149.9 695.7h0M1153.7 698.7h0M1158.3 699.4h0M1167.3 697.9h0M1171.1 701.7h0M1137.8 698.7h0M1139.3 701.7h0M1145.4 701.0h0M1145.4 704.7h0M1151.5 704.7h0M1157.5 704.7h0M1163.6 709.3h0M1168.1 710.8h0M1172.6 709.3h0M1178.7 708.5h0M1190.8 708.5h0M1184.7 710.8h0M1187.8 712.3h0M1195.3 713.1h0M1181.0 716.9h0M1186.3 717.6h0M1195.3 718.4h0M1205.9 713.8h0M1208.2 708.5h0M1212.0 716.1h0M1209.0 720.6h0M1205.2 724.4h0M1190.8 722.9h0M1178.7 724.4h0M1172.6 721.4h0M1163.6 722.9h0M1159.0 718.4h0M1153.0 719.9h0M1145.4 718.4h0M1140.9 720.6h0M1136.3 716.9h0M1130.3 712.3h0M1125.7 710.8h0M1118.2 706.3h0M1113.6 704.0h0M1230.1 720.6h0M1233.2 716.1h0M1289.9 721.4h0M1292.9 716.9h0M1117.4 698.7h0M1122.7 701.7h0M1125.7 707.8h0M1112.1 698.7h0M1109.1 701.7h0M1104.5 702.5h0M1100.0 700.2h0M1131.8 706.3h0M1134.8 710.8h0M1142.4 710.8h0M1148.4 712.3h0M1153.0 713.8h0M1157.5 716.9h0M1163.6 713.8h0M1169.6 716.9h0M1175.7 715.3h0M1182.5 719.9h0M1189.3 719.9h0M1196.9 716.9h0" stroke="#000000" stroke-width="3.5" stroke-linecap="round" fill="none"/>
<path d="M757.20 429.30V736.10H1365.40M757.20 736.10H763.20M757.20 705.42H763.20M757.20 674.74H763.20M757.20 644.06H763.20M757.20 613.38H763.20M757.20 582.70H763.20M757.20 552.02H763.20M757.20 521.34H763.20M757.20 490.66H763.20M757.20 459.98H763.20M757.20 429.30H763.20M757.20 736.10V730.10M833.23 736.10V730.10M909.25 736.10V730.10M985.28 736.10V730.10M1061.30 736.10V730.10M1137.33 736.10V730.10M1213.35 736.10V730.10M1289.38 736.10V730.10M1365.40 736.10V730.10" stroke="#a4a4a4" stroke-width="1" fill="none"/>
<text x="752.70" y="741.50" font-size="13.8" fill="#262626" text-anchor="end">0</text>
<text x="752.70" y="710.82" font-size="13.8" fill="#262626" text-anchor="end">0.2</text>
<text x="752.70" y="680.14" font-size="13.8" fill="#262626" text-anchor="end">0.4</text>
<text x="752.70" y="649.46" font-size="13.8" fill="#262626" text-anchor="end">0.6</text>
<text x="752.70" y="618.78" font-size="13.8" fill="#262626" text-anchor="end">0.8</text>
<text x="752.70" y="588.10" font-size="13.8" fill="#262626" text-anchor="end">1</text>
<text x="752.70" y="557.42" font-size="13.8" fill="#262626" text-anchor="end">1.2</text>
<text x="752.70" y="526.74" font-size="13.8" fill="#262626" text-anchor="end">1.4</text>
<text x="752.70" y="496.06" font-size="13.8" fill="#262626" text-anchor="end">1.6</text>
<text x="752.70" y="465.38" font-size="13.8" fill="#262626" text-anchor="end">1.8</text>
<text x="752.70" y="434.70" font-size="13.8" fill="#262626" text-anchor="end">2</text>
<text x="757.20" y="754.10" font-size="13.8" fill="#262626" text-anchor="middle">-5</text>
<text x="833.23" y="754.10" font-size="13.8" fill="#262626" text-anchor="middle">0</text>
<text x="909.25" y="754.10" font-size="13.8" fill="#262626" text-anchor="middle">5</text>
<text x="985.28" y="754.10" font-size="13.8" fill="#262626" text-anchor="middle">10</text>
<text x="1061.30" y="754.10" font-size="13.8" fill="#262626" text-anchor="middle">15</text>
<text x="1137.33" y="754.10" font-size="13.8" fill="#262626" text-anchor="middle">20</text>
<text x="1213.35" y="754.10" font-size="13.8" fill="#262626" text-anchor="middle">25</text>
<text x="1289.38" y="754.10" font-size="13.8" fill="#262626" text-anchor="middle">30</text>
<text x="1365.40" y="754.10" font-size="13.8" fill="#262626" text-anchor="middle">35</text>
<text x="1061.30" y="773.20" font-size="15.3" fill="#262626" text-anchor="middle">SST (°C)</text>
<text transform="translate(728.70 582.70) rotate(-90)" font-size="15.2" fill="#262626" text-anchor="middle">Phosphate (mmol/m<tspan font-size="10.8" dy="-7">3</tspan><tspan dy="7">)</tspan></text>
<text x="1061.30" y="418.50" font-weight="bold" fill="#000" text-anchor="middle"><tspan font-size="15" dy="0.00">PO</tspan><tspan font-size="11" dy="7.00">4</tspan><tspan font-size="15" dy="-7.00"> &gt; 0.100 mmol/m</tspan><tspan font-size="11" dy="-7.80">3</tspan></text>
<circle cx="1303.10" cy="443.60" r="2.4" fill="#ff0000"/>
<text x="1315.60" y="448.60" font-size="12" fill="#262626">RCP2.6</text>
<circle cx="1303.10" cy="459.40" r="2.4" fill="#0000ff"/>
<text x="1315.60" y="464.40" font-size="12" fill="#262626">RCP4.5</text>
<circle cx="1303.10" cy="475.20" r="2.4" fill="#00ff00"/>
<text x="1315.60" y="480.20" font-size="12" fill="#262626">RCP6.0</text>
<circle cx="1303.10" cy="491.00" r="2.4" fill="#000000"/>
<text x="1315.60" y="496.00" font-size="12" fill="#262626">RCP8.5</text>
<path d="M806.90 588.20L1215.80 736.20" stroke="#d95319" stroke-width="1.5" fill="none"/>
<text x="1183.50" y="699.40" font-size="14" font-weight="bold" fill="#d95319">R2 = 0.41</text>
</svg></body></html>
